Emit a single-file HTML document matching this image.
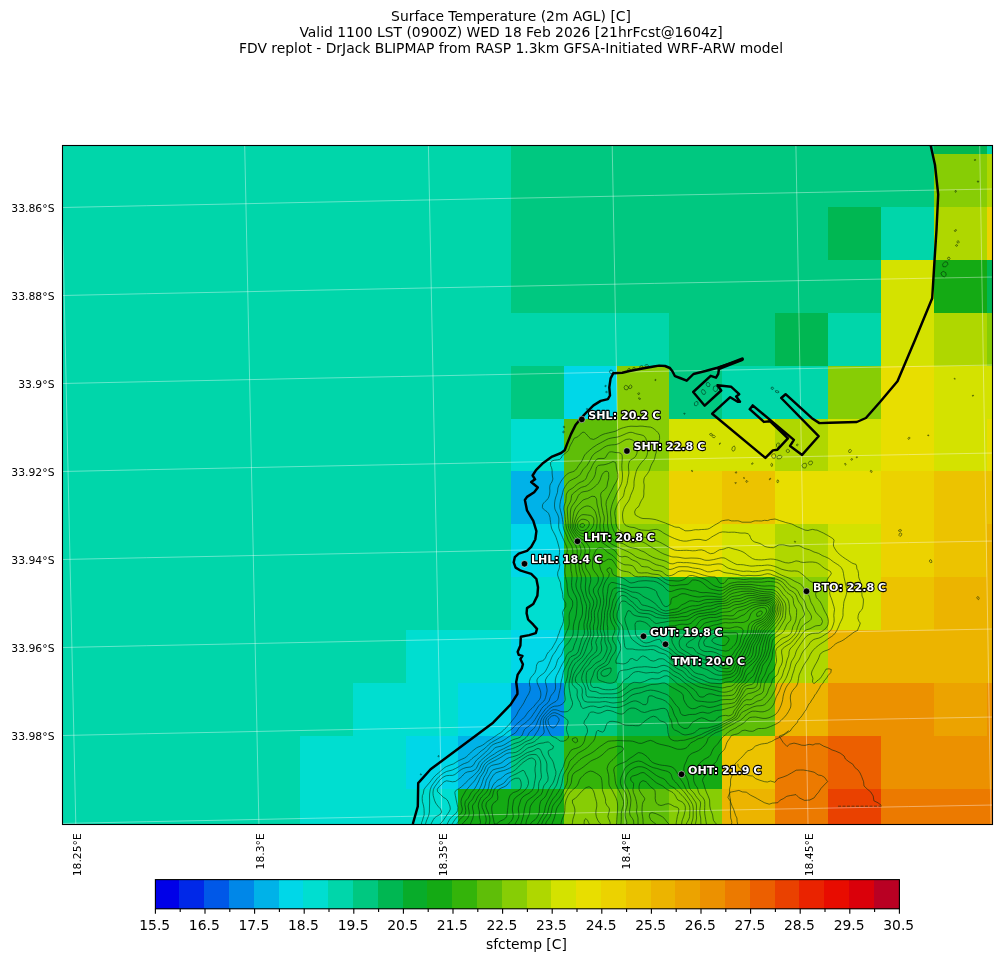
<!DOCTYPE html>
<html><head><meta charset="utf-8"><title>Surface Temperature (2m AGL) [C]</title>
<style>
html,body{margin:0;padding:0;background:#fff;}
svg{display:block;font-family:"DejaVu Sans","Liberation Sans",sans-serif;}
.tt{font-size:13.89px;fill:#000;}
.tk{font-size:10.8px;fill:#000;}
.cbt{font-size:13.89px;fill:#000;}
.lb{font-size:11.1px;font-weight:bold;fill:#fff;stroke:#000;stroke-width:2.3px;paint-order:stroke fill;stroke-linejoin:round;}
</style></head><body>
<svg width="1001" height="962" viewBox="0 0 1001 962">
<rect width="1001" height="962" fill="#fff"/>
<text x="511" y="21" text-anchor="middle" class="tt">Surface Temperature (2m AGL) [C]</text>
<text x="511" y="37" text-anchor="middle" class="tt">Valid 1100 LST (0900Z) WED 18 Feb 2026 [21hrFcst@1604z]</text>
<text x="511" y="53" text-anchor="middle" class="tt">FDV replot - DrJack BLIPMAP from RASP 1.3km GFSA-Initiated WRF-ARW model</text>
<defs><clipPath id="ax"><rect x="62.5" y="145.5" width="930.0" height="679.0"/></clipPath></defs>
<g clip-path="url(#ax)">
<g shape-rendering="crispEdges">
<rect x="62.5" y="145.5" width="930.0" height="679.0" fill="#00d6aa"/>
<rect x="511.00" y="145.50" width="423.50" height="8.80" fill="#00c880"/>
<rect x="934.20" y="145.50" width="53.00" height="8.80" fill="#00b752"/>
<rect x="511.00" y="154.00" width="423.50" height="53.20" fill="#00c880"/>
<rect x="934.20" y="154.00" width="53.00" height="53.20" fill="#87cd05"/>
<rect x="986.90" y="154.00" width="5.90" height="53.20" fill="#afd700"/>
<rect x="511.00" y="206.90" width="317.20" height="53.35" fill="#00c880"/>
<rect x="827.90" y="206.90" width="53.40" height="53.35" fill="#00b752"/>
<rect x="934.20" y="206.90" width="53.00" height="53.35" fill="#afd700"/>
<rect x="986.90" y="206.90" width="5.90" height="53.35" fill="#ecd200"/>
<rect x="511.00" y="259.95" width="370.30" height="53.30" fill="#00c880"/>
<rect x="881.00" y="259.95" width="53.50" height="53.30" fill="#d4e200"/>
<rect x="934.20" y="259.95" width="53.00" height="53.30" fill="#14aa14"/>
<rect x="986.90" y="259.95" width="5.90" height="53.30" fill="#00b752"/>
<rect x="669.20" y="312.95" width="106.00" height="53.35" fill="#00c880"/>
<rect x="774.90" y="312.95" width="53.30" height="53.35" fill="#00b752"/>
<rect x="881.00" y="312.95" width="53.50" height="53.35" fill="#d4e200"/>
<rect x="934.20" y="312.95" width="53.00" height="53.35" fill="#afd700"/>
<rect x="986.90" y="312.95" width="5.90" height="53.35" fill="#87cd05"/>
<rect x="511.00" y="366.00" width="53.20" height="52.85" fill="#00c880"/>
<rect x="563.90" y="366.00" width="52.90" height="52.85" fill="#00d7e8"/>
<rect x="616.50" y="366.00" width="53.00" height="52.85" fill="#87cd05"/>
<rect x="669.20" y="366.00" width="53.10" height="52.85" fill="#00c880"/>
<rect x="827.90" y="366.00" width="53.40" height="52.85" fill="#87cd05"/>
<rect x="881.00" y="366.00" width="53.50" height="52.85" fill="#e8de00"/>
<rect x="934.20" y="366.00" width="58.60" height="52.85" fill="#d4e200"/>
<rect x="511.00" y="418.55" width="53.20" height="52.65" fill="#00ded0"/>
<rect x="563.90" y="418.55" width="52.90" height="52.65" fill="#5fbe08"/>
<rect x="616.50" y="418.55" width="53.00" height="52.65" fill="#87cd05"/>
<rect x="669.20" y="418.55" width="106.00" height="52.65" fill="#d4e200"/>
<rect x="774.90" y="418.55" width="53.30" height="52.65" fill="#afd700"/>
<rect x="827.90" y="418.55" width="53.40" height="52.65" fill="#d4e200"/>
<rect x="881.00" y="418.55" width="53.50" height="52.65" fill="#e8de00"/>
<rect x="934.20" y="418.55" width="53.00" height="52.65" fill="#d4e200"/>
<rect x="986.90" y="418.55" width="5.90" height="52.65" fill="#e8de00"/>
<rect x="511.00" y="470.90" width="53.20" height="53.30" fill="#00b2e8"/>
<rect x="563.90" y="470.90" width="52.90" height="53.30" fill="#5fbe08"/>
<rect x="616.50" y="470.90" width="53.00" height="53.30" fill="#afd700"/>
<rect x="669.20" y="470.90" width="53.10" height="53.30" fill="#ecd200"/>
<rect x="722.00" y="470.90" width="53.20" height="53.30" fill="#ecc300"/>
<rect x="774.90" y="470.90" width="106.40" height="53.30" fill="#e8de00"/>
<rect x="881.00" y="470.90" width="53.50" height="53.30" fill="#ecd200"/>
<rect x="934.20" y="470.90" width="58.60" height="53.30" fill="#ecc300"/>
<rect x="511.00" y="523.90" width="53.20" height="53.35" fill="#00d7e8"/>
<rect x="563.90" y="523.90" width="52.90" height="53.35" fill="#34b40a"/>
<rect x="616.50" y="523.90" width="53.00" height="53.35" fill="#87cd05"/>
<rect x="669.20" y="523.90" width="53.10" height="53.35" fill="#e8de00"/>
<rect x="722.00" y="523.90" width="53.20" height="53.35" fill="#d4e200"/>
<rect x="774.90" y="523.90" width="53.30" height="53.35" fill="#afd700"/>
<rect x="827.90" y="523.90" width="53.40" height="53.35" fill="#d4e200"/>
<rect x="881.00" y="523.90" width="53.50" height="53.35" fill="#ecd200"/>
<rect x="934.20" y="523.90" width="53.00" height="53.35" fill="#ecc300"/>
<rect x="986.90" y="523.90" width="5.90" height="53.35" fill="#ecb400"/>
<rect x="511.00" y="576.95" width="53.20" height="53.15" fill="#00ded0"/>
<rect x="563.90" y="576.95" width="52.90" height="53.15" fill="#08ac2a"/>
<rect x="616.50" y="576.95" width="53.00" height="53.15" fill="#00b752"/>
<rect x="669.20" y="576.95" width="53.10" height="53.15" fill="#14aa14"/>
<rect x="722.00" y="576.95" width="53.20" height="53.15" fill="#34b40a"/>
<rect x="774.90" y="576.95" width="53.30" height="53.15" fill="#87cd05"/>
<rect x="827.90" y="576.95" width="53.40" height="53.15" fill="#d4e200"/>
<rect x="881.00" y="576.95" width="53.50" height="53.15" fill="#ecc300"/>
<rect x="934.20" y="576.95" width="58.60" height="53.15" fill="#ecb400"/>
<rect x="405.50" y="629.80" width="105.80" height="53.45" fill="#00ded0"/>
<rect x="511.00" y="629.80" width="53.20" height="53.45" fill="#00d7e8"/>
<rect x="563.90" y="629.80" width="52.90" height="53.45" fill="#00b752"/>
<rect x="616.50" y="629.80" width="53.00" height="53.45" fill="#00c880"/>
<rect x="669.20" y="629.80" width="53.10" height="53.45" fill="#00b752"/>
<rect x="722.00" y="629.80" width="53.20" height="53.45" fill="#14aa14"/>
<rect x="774.90" y="629.80" width="53.30" height="53.45" fill="#afd700"/>
<rect x="827.90" y="629.80" width="164.90" height="53.45" fill="#ecb400"/>
<rect x="352.70" y="682.95" width="105.80" height="53.20" fill="#00ded0"/>
<rect x="458.20" y="682.95" width="53.10" height="53.20" fill="#00d7e8"/>
<rect x="511.00" y="682.95" width="53.20" height="53.20" fill="#0087e8"/>
<rect x="563.90" y="682.95" width="52.90" height="53.20" fill="#00c880"/>
<rect x="616.50" y="682.95" width="53.00" height="53.20" fill="#00b752"/>
<rect x="669.20" y="682.95" width="53.10" height="53.20" fill="#08ac2a"/>
<rect x="722.00" y="682.95" width="53.20" height="53.20" fill="#5fbe08"/>
<rect x="774.90" y="682.95" width="53.30" height="53.20" fill="#ecb400"/>
<rect x="827.90" y="682.95" width="106.60" height="53.20" fill="#ec9100"/>
<rect x="934.20" y="682.95" width="53.00" height="53.20" fill="#eca300"/>
<rect x="986.90" y="682.95" width="5.90" height="53.20" fill="#ec9100"/>
<rect x="299.90" y="735.85" width="105.90" height="53.35" fill="#00ded0"/>
<rect x="405.50" y="735.85" width="53.00" height="53.35" fill="#00d7e8"/>
<rect x="458.20" y="735.85" width="53.10" height="53.35" fill="#00b2e8"/>
<rect x="511.00" y="735.85" width="53.20" height="53.35" fill="#00c880"/>
<rect x="563.90" y="735.85" width="52.90" height="53.35" fill="#34b40a"/>
<rect x="616.50" y="735.85" width="105.80" height="53.35" fill="#14aa14"/>
<rect x="722.00" y="735.85" width="53.20" height="53.35" fill="#ecc300"/>
<rect x="774.90" y="735.85" width="53.30" height="53.35" fill="#ec7a00"/>
<rect x="827.90" y="735.85" width="53.40" height="53.35" fill="#ec5f00"/>
<rect x="881.00" y="735.85" width="111.80" height="53.35" fill="#ec9100"/>
<rect x="299.90" y="788.90" width="158.60" height="35.90" fill="#00ded0"/>
<rect x="458.20" y="788.90" width="106.00" height="35.90" fill="#14aa14"/>
<rect x="563.90" y="788.90" width="52.90" height="35.90" fill="#87cd05"/>
<rect x="616.50" y="788.90" width="53.00" height="35.90" fill="#5fbe08"/>
<rect x="669.20" y="788.90" width="53.10" height="35.90" fill="#87cd05"/>
<rect x="722.00" y="788.90" width="53.20" height="35.90" fill="#ecb400"/>
<rect x="774.90" y="788.90" width="53.30" height="35.90" fill="#ec7a00"/>
<rect x="827.90" y="788.90" width="53.40" height="35.90" fill="#ea4100"/>
<rect x="881.00" y="788.90" width="111.80" height="35.90" fill="#ec7a00"/>
</g>
<path d="M62.0,207.5 L146.6,205.7 L231.3,204.0 L315.9,202.2 L400.5,200.5 L485.2,198.8 L569.8,197.1 L654.5,195.4 L739.1,193.8 L823.7,192.2 L908.4,190.6 L993.0,189.0 M62.0,295.5 L146.6,293.7 L231.3,292.0 L315.9,290.2 L400.5,288.5 L485.2,286.8 L569.8,285.1 L654.5,283.4 L739.1,281.8 L823.7,280.2 L908.4,278.6 L993.0,277.0 M62.0,383.5 L146.6,381.7 L231.3,380.0 L315.9,378.2 L400.5,376.5 L485.2,374.8 L569.8,373.1 L654.5,371.4 L739.1,369.8 L823.7,368.2 L908.4,366.6 L993.0,365.0 M62.0,471.5 L146.6,469.7 L231.3,468.0 L315.9,466.2 L400.5,464.5 L485.2,462.8 L569.8,461.1 L654.5,459.4 L739.1,457.8 L823.7,456.2 L908.4,454.6 L993.0,453.0 M62.0,559.5 L146.6,557.7 L231.3,556.0 L315.9,554.2 L400.5,552.5 L485.2,550.8 L569.8,549.1 L654.5,547.4 L739.1,545.8 L823.7,544.2 L908.4,542.6 L993.0,541.0 M62.0,647.5 L146.6,645.7 L231.3,644.0 L315.9,642.2 L400.5,640.5 L485.2,638.8 L569.8,637.1 L654.5,635.4 L739.1,633.8 L823.7,632.2 L908.4,630.6 L993.0,629.0 M62.0,735.5 L146.6,733.7 L231.3,732.0 L315.9,730.2 L400.5,728.5 L485.2,726.8 L569.8,725.1 L654.5,723.4 L739.1,721.8 L823.7,720.2 L908.4,718.6 L993.0,717.0 M62.0,823.5 L146.6,821.7 L231.3,820.0 L315.9,818.2 L400.5,816.5 L485.2,814.8 L569.8,813.1 L654.5,811.4 L739.1,809.8 L823.7,808.2 L908.4,806.6 L993.0,805.0 M60.9,145 L75.8,824 M244.7,145 L258.9,824 M428.4,145 L441.9,824 M612.2,145 L625.0,824 M795.9,145 L808.0,824 M979.7,145 L991.0,824" fill="none" stroke="#ffffff" stroke-opacity="0.52" stroke-width="0.75"/>
<path d="M628.3,426.5L631.0,426.2L634.0,426.3L637.0,426.4L640.0,426.1L643.0,426.2L644.8,426.5L647.5,426.8L650.5,427.1L652.6,428.0L654.7,429.5L656.4,431.0L657.9,432.5L658.9,434.0L659.5,435.5L659.6,438.5L659.3,440.0L658.7,443.0L658.1,446.0L657.8,447.5L656.8,450.5L656.3,452.0L655.4,455.0L655.0,457.0L654.3,459.5L653.5,461.0L652.0,463.6L651.1,465.5L650.5,467.0L649.5,470.0L648.8,471.5L647.5,473.6L646.0,475.5L644.5,477.5L644.0,479.0L643.7,482.0L644.2,485.0L644.1,488.0L643.8,491.0L643.9,494.0L643.5,497.0L642.7,498.5L641.5,500.3L640.1,503.0L639.6,504.5L638.5,506.8L637.0,507.7L635.5,509.6L634.6,512.0L635.3,515.0L637.0,516.0L638.5,516.8L640.9,518.0L643.0,518.5L646.0,518.6L649.0,518.7L652.0,519.0L655.0,519.5L656.5,519.9L659.5,520.9L661.0,521.5L663.9,522.5L665.5,523.1L667.7,524.0L670.0,524.9L671.5,525.5L674.5,526.8L676.0,527.2L679.0,527.3L680.9,528.5L683.5,529.8L685.0,530.8L688.0,530.8L691.0,530.6L693.5,530.0L695.5,529.7L698.5,529.8L701.5,529.5L704.5,529.4L707.5,529.1L709.3,528.5L711.8,527.0L713.5,525.8L715.0,524.9L716.7,524.0L719.3,522.5L721.0,521.2L722.5,520.7L725.5,520.2L728.5,519.9L731.5,520.9L734.5,520.9L737.5,520.8L739.0,521.0L742.0,522.2L745.0,522.2L748.0,522.2L751.0,522.2L754.0,521.0L755.5,520.8L758.5,520.9L761.5,521.0L764.5,520.3L767.5,520.6L770.5,519.5L772.0,519.4L775.0,519.0L776.7,519.5L779.5,520.5L781.0,521.0L784.0,521.9L785.6,522.5L788.5,523.2L791.5,523.9L793.0,524.5L794.7,525.5L797.5,526.9L799.0,527.4L801.3,528.5L803.5,529.4L805.0,530.1L808.0,530.5L809.6,530.0L812.5,529.4L815.4,530.0L817.0,530.1L820.0,531.5L821.5,532.2L823.3,533.0L826.0,534.5L827.5,535.3L829.0,536.2L831.2,537.5L833.4,539.0L834.0,540.5L833.5,543.5L833.4,545.0L833.7,546.5L835.0,548.9L836.4,551.0L837.6,552.5L839.2,554.0L840.9,555.5L842.5,556.7L844.0,557.8L845.5,558.8L847.4,560.0L849.6,561.5L851.5,562.7L853.0,563.5L856.0,564.4L856.6,566.0L856.9,569.0L857.9,570.5L858.5,573.5L858.6,576.5L859.0,578.2L860.2,581.0L860.5,584.0L860.5,585.5L861.3,588.5L861.9,591.5L861.9,594.5L862.0,596.0L863.4,599.0L863.4,602.0L863.1,605.0L862.6,608.0L862.0,609.5L860.4,611.0L859.0,613.1L858.2,615.5L857.9,618.5L859.0,621.4L860.3,623.0L859.4,626.0L858.6,627.5L857.5,630.5L856.0,631.2L854.2,632.0L852.2,633.5L850.3,635.0L848.5,636.3L847.0,637.4L845.5,638.5L844.0,639.6L841.6,641.0L839.5,641.9L837.9,642.5L835.4,644.0L833.7,645.5L832.2,647.0L830.5,648.4L829.0,649.4L827.5,650.0L824.5,651.1L823.0,651.8L821.2,653.0L820.0,654.6L818.9,657.5L818.3,659.0L817.0,661.7L816.0,663.5L815.1,665.0L814.0,667.2L812.8,669.5L812.0,671.0L811.3,674.0L812.5,677.0L812.9,678.5L812.5,681.3L812.5,682.2L814.0,683.6L815.5,682.5L817.0,680.9L818.5,679.8L820.2,678.5L821.5,676.6L823.0,674.2L824.1,672.5L825.0,671.0L826.0,669.1L829.0,668.8L831.3,669.5L830.8,672.5L829.5,674.0L828.1,675.5L827.2,677.0L826.0,678.9L824.5,680.2L823.1,683.0L821.7,684.5L820.4,686.0L819.8,687.5L818.5,689.7L817.0,692.0L816.2,693.5L814.8,695.0L814.0,696.8L812.5,699.0L811.1,701.0L810.4,702.5L808.9,704.0L808.0,705.8L806.6,708.5L806.0,710.0L804.7,711.5L803.5,713.4L802.0,715.6L800.6,717.5L799.0,719.0L797.9,720.5L797.5,722.1L796.0,723.8L794.5,725.5L793.0,727.1L791.5,729.0L790.3,731.0L788.5,732.0L787.0,733.0L785.3,734.0L783.2,735.5L781.0,736.8L779.5,737.5L777.2,738.5L775.0,739.4L773.5,740.4L771.5,741.5L769.0,742.4L767.5,743.2L764.5,743.6L761.5,744.0L759.7,744.5L757.0,745.5L755.5,746.0L753.7,747.5L752.5,749.1L749.5,750.4L748.0,750.7L746.3,752.0L745.0,753.6L743.5,755.3L742.0,756.9L740.5,758.4L739.0,759.9L737.5,761.3L736.0,762.9L734.5,764.9L733.5,767.0L732.8,768.5L732.6,771.5L732.5,774.5L731.5,776.9L730.7,779.0L730.5,782.0L730.6,785.0L730.0,787.3L729.5,789.5L729.7,792.5L729.7,795.5L730.0,797.5L730.6,800.0L730.3,803.0L730.4,806.0L730.5,809.0L730.4,812.0L730.6,815.0L730.7,818.0L731.5,820.6L731.8,822.5L731.5,824.2L730.0,825.6L728.5,828.0L727.7,830.0L727.0,831.9L726.3,834.5L725.6,837.5L725.5,839.0L725.4,842.0L725.2,845.0L724.6,848.0L722.9,849.5L721.0,849.7L718.0,849.9L715.0,850.0L712.0,850.1L709.0,850.2L706.0,850.3L703.0,850.3L700.0,850.4L697.0,850.5L694.0,850.6L691.0,850.6L688.0,850.7L685.0,850.7L682.0,850.7L679.0,850.8L676.0,850.8L673.0,850.8L670.0,850.8L667.0,850.8L664.0,850.8L661.0,850.8L658.0,850.8L655.0,850.8L652.0,850.8L649.0,850.8L646.0,850.8L643.0,850.8L640.0,850.8L637.0,850.8L634.0,850.8L631.0,850.8L628.0,850.8L625.0,850.8L622.0,850.8L619.0,850.7L616.0,850.7L613.0,850.7L610.0,850.7L607.0,850.6L604.0,850.4L601.0,850.2L598.0,850.0L595.0,849.7L592.0,849.6L590.1,849.5L587.5,849.3L586.0,849.5L583.0,849.6L580.0,849.7L577.0,849.7L574.0,849.8L571.0,850.1L568.0,850.4L565.0,850.5L562.0,850.6L559.0,850.6L556.0,850.7L553.0,850.6L550.0,850.6L547.0,850.6L544.0,850.6L541.0,850.7L538.0,850.7L535.0,850.8L532.0,850.8L529.0,850.8L526.0,850.9L523.0,850.9L520.0,850.9L517.0,850.9L514.0,850.9L511.0,850.9L508.0,850.9L505.0,850.9L502.0,850.9L499.0,850.9L496.0,850.9L493.0,850.9L490.0,850.9L487.0,850.9L484.0,850.9L481.0,850.9L478.0,850.9L475.0,850.9L472.0,850.9L469.0,850.9L466.0,850.9L463.0,850.9L460.0,850.9L457.0,850.9L454.0,850.9L451.0,850.9L448.0,850.9L445.0,850.8L442.0,850.8L439.0,850.8L436.0,850.8L433.0,850.8L430.0,850.8L427.0,850.7L424.0,850.6L421.0,850.3L418.0,849.6L416.5,849.5L414.0,848.0L414.4,845.0L415.0,842.8L416.6,842.0L418.0,840.5L418.7,837.5L419.5,834.8L419.9,833.0L421.0,830.4L421.2,828.5L421.3,825.5L421.6,822.5L422.5,820.4L423.1,818.0L424.0,815.5L424.2,813.5L424.1,810.5L424.0,808.6L423.6,806.0L422.8,803.0L422.4,801.5L422.2,798.5L422.4,795.5L423.2,794.0L423.7,791.0L424.0,789.5L425.5,787.3L427.0,785.6L428.5,783.8L430.0,782.1L431.2,780.5L432.3,779.0L433.5,777.5L434.9,776.0L436.5,774.5L438.4,773.0L440.1,771.5L441.8,770.0L443.5,768.5L445.0,767.3L446.5,766.5L449.1,765.5L451.0,764.7L453.3,764.0L455.5,762.6L457.0,761.6L458.5,760.7L461.2,759.5L463.0,758.7L464.6,758.0L466.7,756.5L468.3,755.0L469.8,753.5L471.3,752.0L473.1,750.5L475.0,749.0L476.5,747.9L478.0,747.1L480.9,746.0L482.5,745.2L484.0,744.2L485.5,743.0L487.3,741.5L489.8,740.0L491.5,738.8L493.0,737.8L494.5,736.8L496.3,735.5L498.5,734.0L500.5,732.8L502.0,731.6L503.5,730.2L505.0,728.6L506.5,727.2L508.0,725.8L509.5,724.2L511.0,722.2L512.2,720.5L513.5,719.0L514.7,717.5L515.8,716.0L517.0,714.0L518.2,711.5L519.1,710.0L520.1,708.5L521.5,706.5L523.0,704.2L524.0,702.5L524.7,701.0L526.0,698.5L527.1,696.5L528.0,695.0L529.0,693.2L530.0,690.5L530.2,687.5L529.5,684.5L529.4,681.5L530.3,678.5L531.3,677.0L532.6,675.5L533.9,674.0L535.0,672.5L536.0,669.5L536.4,666.5L536.6,665.0L538.0,662.3L539.5,661.6L542.5,660.8L544.0,659.8L545.5,657.8L546.2,656.0L547.0,654.1L548.5,652.0L550.0,650.6L551.5,649.0L552.8,647.0L553.6,645.5L554.5,643.9L556.0,641.2L556.7,639.5L557.5,637.7L558.2,635.0L559.0,633.4L559.9,630.5L560.5,628.9L561.8,626.0L562.5,624.5L563.4,621.5L563.5,620.0L563.5,618.4L563.0,615.5L562.5,612.5L563.5,610.0L564.8,608.0L565.7,606.5L565.8,603.5L565.0,601.8L563.5,599.4L562.9,597.5L562.7,594.5L562.2,591.5L561.7,590.0L560.9,587.0L560.6,584.0L560.4,582.5L559.2,579.5L558.5,578.0L557.6,575.0L557.8,572.0L559.0,569.1L559.4,567.5L559.8,564.5L559.1,561.5L558.8,560.0L558.9,557.0L559.1,555.5L559.6,552.5L559.5,549.5L559.0,547.4L558.4,545.0L557.6,542.0L557.1,540.5L556.1,537.5L555.5,536.0L554.5,534.0L553.2,531.5L552.3,530.0L551.5,528.0L551.0,525.5L550.6,522.5L550.2,519.5L550.0,517.5L549.2,515.0L548.5,513.4L547.0,511.7L545.3,510.5L543.3,509.0L542.4,507.5L542.5,504.9L543.6,503.0L545.1,501.5L546.9,500.0L548.0,498.5L548.8,497.0L549.6,494.0L549.9,491.0L549.7,488.0L550.0,485.2L550.8,483.5L551.9,482.0L552.9,479.0L552.4,476.0L552.1,473.0L552.1,470.0L551.5,467.5L550.6,465.5L550.6,462.5L552.0,461.0L554.5,460.2L557.5,459.8L559.6,459.5L561.2,458.0L562.0,456.3L563.5,454.6L565.0,453.5L566.9,452.0L568.4,450.5L569.5,447.5L570.0,446.0L571.0,444.1L572.5,441.5L573.2,440.0L574.0,438.3L577.0,437.1L578.5,436.2L580.0,434.7L581.5,433.0L583.0,432.1L584.6,432.5L586.2,434.0L587.5,435.5L589.0,437.3L590.5,438.7L593.5,439.4L595.8,438.5L598.0,437.2L599.5,436.2L601.0,435.3L604.0,434.0L605.5,433.6L608.5,432.9L610.0,432.5L613.0,431.9L616.0,431.0L617.5,430.2L619.0,429.3L622.0,428.1L623.5,427.7L626.5,426.9L628.3,426.5 M586.0,818.6L584.5,819.8L584.1,822.5L584.2,825.5L584.5,827.3L585.4,830.0L586.0,832.4L587.5,833.2L588.7,831.5L589.3,830.0L589.8,827.0L589.3,824.0L588.6,822.5L587.5,820.3L586.0,818.6 M629.1,432.5L631.0,432.3L632.5,432.5L635.5,433.6L637.0,434.0L640.0,434.6L643.0,435.4L644.5,436.4L645.9,438.5L646.3,440.0L647.5,443.0L648.0,444.5L648.2,447.5L647.8,450.5L647.5,452.5L647.1,455.0L646.0,457.5L644.5,459.4L643.0,460.9L641.5,462.5L640.3,464.0L639.3,465.5L638.3,467.0L637.0,469.3L636.2,471.5L635.5,474.3L635.1,476.0L634.4,479.0L634.0,481.8L634.0,483.5L634.0,485.0L633.9,486.5L633.2,489.5L632.5,491.1L631.2,494.0L630.6,495.5L629.7,498.5L629.1,500.0L628.0,501.9L626.5,503.9L625.1,506.0L624.3,507.5L623.5,509.6L622.8,512.0L622.5,515.0L622.7,518.0L623.1,521.0L623.5,522.6L625.0,524.8L626.5,525.8L629.5,526.9L631.0,527.2L634.0,527.5L636.7,528.5L638.5,529.3L641.5,530.0L643.0,530.1L646.0,530.3L649.0,530.4L651.3,530.0L653.5,529.6L656.5,529.4L658.7,530.0L661.0,531.2L662.5,532.3L664.0,533.3L666.2,534.5L668.5,535.7L670.0,536.5L672.2,537.5L674.5,538.5L676.0,539.1L679.0,540.1L680.5,540.5L683.5,541.1L686.5,541.1L689.5,540.6L691.0,540.2L694.0,539.7L697.0,539.4L700.0,539.4L703.0,540.1L706.0,540.5L708.9,539.0L710.5,537.8L712.0,536.8L713.5,535.9L716.1,534.5L718.0,533.4L719.5,532.6L722.5,531.9L725.5,532.0L728.5,532.3L731.5,532.2L734.5,532.2L737.5,532.6L740.0,533.0L742.0,533.1L745.0,533.0L748.0,533.7L749.5,535.0L750.5,537.5L751.1,539.0L752.5,540.7L754.7,542.0L757.0,542.6L760.0,543.5L761.5,544.3L763.0,545.3L765.0,546.5L767.5,547.2L770.5,547.6L773.5,547.7L775.9,546.5L778.0,545.2L779.5,544.9L782.5,544.8L784.2,545.0L787.0,545.7L790.0,546.2L793.0,546.1L796.0,545.7L799.0,545.7L801.0,546.5L803.5,547.9L805.0,548.6L808.0,549.4L809.5,549.8L812.0,551.0L814.0,552.0L815.8,552.5L818.5,553.4L820.0,554.2L822.1,555.5L824.5,556.5L826.0,557.1L828.9,558.5L830.5,559.6L832.0,560.8L833.5,561.9L835.2,563.0L837.6,564.5L839.5,565.8L841.0,567.3L842.1,569.0L842.8,570.5L843.5,573.5L843.9,576.5L844.2,578.0L844.9,581.0L845.5,584.0L845.8,585.5L846.6,588.5L846.8,591.5L846.3,594.5L845.5,597.2L844.8,599.0L844.0,601.6L843.7,603.5L843.5,606.5L843.1,609.5L843.0,612.5L843.0,615.5L842.5,617.8L841.6,620.0L840.8,621.5L839.5,624.3L838.9,626.0L838.0,628.0L836.8,630.5L835.9,632.0L834.8,633.5L833.5,635.0L831.6,636.5L829.2,638.0L827.5,639.2L826.0,640.3L824.5,641.4L822.7,642.5L820.4,644.0L818.5,645.4L817.0,646.6L815.5,647.8L814.0,649.3L812.5,651.0L811.1,653.0L810.2,654.5L809.5,656.1L808.0,658.9L806.9,660.5L805.8,662.0L804.8,663.5L803.5,665.6L802.3,668.0L801.6,669.5L800.5,671.8L799.5,674.0L799.0,675.5L798.5,678.5L798.1,681.5L797.5,683.9L796.5,686.0L795.3,687.5L793.9,689.0L792.7,690.5L791.5,692.5L790.6,695.0L790.3,698.0L790.6,701.0L791.0,704.0L790.7,707.0L790.0,708.7L788.5,711.5L787.6,713.0L786.6,714.5L785.4,716.0L784.0,717.5L782.5,719.0L781.0,720.5L779.3,722.0L777.0,723.5L775.0,724.5L773.5,725.2L770.5,726.5L769.0,727.1L766.5,728.0L764.5,728.4L761.5,728.5L758.5,728.5L756.0,729.5L754.0,730.8L752.5,731.3L749.5,731.2L748.0,730.9L745.0,730.1L742.0,730.7L740.5,731.9L739.0,733.1L737.1,734.0L734.5,734.5L731.5,735.5L730.4,737.0L729.6,738.5L728.5,740.0L727.0,742.3L726.2,744.5L725.5,746.9L724.7,749.0L723.5,750.5L721.9,752.0L720.5,753.5L719.3,755.0L718.0,757.7L717.4,759.5L716.5,761.4L715.0,763.0L713.5,764.2L712.0,765.6L710.5,767.4L709.0,769.3L707.5,771.3L706.5,773.0L705.6,774.5L704.5,776.2L703.0,778.4L702.5,780.5L703.0,782.0L704.1,785.0L704.5,786.7L705.4,789.5L706.0,791.1L707.2,794.0L707.9,795.5L709.0,798.3L709.6,800.0L709.7,803.0L709.8,806.0L710.4,809.0L710.9,810.5L712.0,813.2L712.6,815.0L713.0,818.0L713.5,820.4L715.0,822.5L716.4,824.0L717.2,825.5L717.5,828.5L716.8,831.5L716.2,833.0L715.0,834.9L713.6,837.5L713.1,839.0L712.2,842.0L711.5,843.5L710.5,845.6L709.1,848.0L707.5,848.3L704.5,848.8L701.6,849.5L700.0,849.6L697.0,849.7L694.0,849.9L691.0,850.0L688.0,850.1L685.0,850.2L682.0,850.3L679.0,850.4L676.0,850.5L673.0,850.5L670.0,850.5L667.0,850.5L664.0,850.5L661.0,850.6L658.0,850.6L655.0,850.6L652.0,850.5L649.0,850.5L646.0,850.5L643.0,850.5L640.0,850.4L637.0,850.4L634.0,850.4L631.0,850.4L628.0,850.4L625.0,850.4L622.0,850.3L619.0,850.3L616.0,850.2L613.0,850.2L610.0,850.1L607.0,849.9L604.0,849.5L602.5,848.1L602.5,847.6L603.1,845.0L603.9,842.0L604.2,840.5L604.4,837.5L604.0,834.9L603.6,833.0L603.3,830.0L602.9,827.0L602.2,825.5L600.8,824.0L599.3,822.5L598.0,820.6L596.8,818.0L596.3,816.5L595.8,813.5L596.0,810.5L596.5,808.0L596.8,806.0L596.7,803.0L596.4,801.5L595.6,798.5L595.0,796.7L594.5,794.0L593.5,791.1L592.6,789.5L591.4,788.0L589.0,786.7L586.0,787.6L584.5,788.8L583.0,790.2L581.5,791.6L580.0,793.2L578.5,795.0L577.0,796.7L575.5,798.2L574.0,799.1L572.4,800.0L572.5,803.0L573.3,804.5L574.0,806.1L574.8,809.0L574.9,812.0L574.2,815.0L573.7,816.5L572.8,819.5L572.5,822.5L572.2,824.0L571.0,826.8L570.3,828.5L569.5,830.3L568.5,833.0L568.3,836.0L568.8,839.0L569.5,841.5L569.7,843.5L569.5,845.8L569.3,848.0L567.6,849.5L565.0,849.8L562.0,850.0L559.0,850.0L556.0,850.1L553.0,850.0L550.0,850.0L547.0,850.0L544.0,850.0L541.0,850.1L538.0,850.3L535.0,850.4L532.0,850.5L529.0,850.6L526.0,850.6L523.0,850.6L520.0,850.6L517.0,850.6L514.0,850.7L511.0,850.7L508.0,850.7L505.0,850.7L502.0,850.7L499.0,850.8L496.0,850.8L493.0,850.8L490.0,850.8L487.0,850.8L484.0,850.8L481.0,850.8L478.0,850.8L475.0,850.8L472.0,850.7L469.0,850.7L466.0,850.7L463.0,850.7L460.0,850.7L457.0,850.7L454.0,850.6L451.0,850.6L448.0,850.6L445.0,850.6L442.0,850.6L439.0,850.6L436.0,850.5L433.0,850.5L430.0,850.3L427.0,850.2L424.0,849.9L421.9,849.5L421.4,846.5L422.0,843.5L422.3,840.5L422.4,837.5L422.7,836.0L423.6,833.0L424.2,831.5L424.9,828.5L425.2,825.5L425.5,823.9L426.4,821.0L427.0,819.5L428.3,816.5L428.8,815.0L429.4,812.0L429.4,809.0L429.5,806.0L429.6,803.0L429.6,800.0L429.5,797.0L429.6,794.0L430.0,791.0L430.3,789.5L431.4,786.5L432.3,785.0L433.4,783.5L434.5,782.0L436.0,780.0L437.5,778.2L439.0,776.7L440.5,775.4L442.0,774.2L443.7,773.0L446.5,771.5L448.0,771.1L451.0,770.4L452.5,769.9L455.5,768.5L457.0,767.7L458.5,766.8L460.5,765.5L463.0,764.1L464.5,763.5L467.3,762.5L469.0,761.5L470.5,760.1L472.0,758.6L473.5,757.4L475.0,756.3L476.8,755.0L478.4,753.5L479.9,752.0L481.8,750.5L484.0,749.0L485.5,747.8L487.0,746.3L488.5,744.8L490.0,743.5L491.5,742.5L493.1,741.5L495.8,740.0L497.5,739.0L499.0,738.1L500.9,737.0L503.4,735.5L505.0,734.2L506.5,732.8L508.0,731.6L509.5,730.6L511.2,729.5L513.0,728.0L514.4,726.5L515.7,725.0L517.3,723.5L519.1,722.0L520.8,720.5L522.6,719.0L524.1,717.5L525.4,716.0L526.4,714.5L527.5,712.9L529.0,711.0L530.5,709.6L532.0,708.3L533.5,706.8L535.0,704.9L536.5,703.1L538.0,701.4L539.5,699.5L540.3,698.0L540.9,695.0L540.7,692.0L539.8,689.0L539.2,687.5L538.0,684.9L537.2,683.0L536.9,680.0L538.0,677.9L539.5,676.4L541.0,675.2L542.7,674.0L544.5,672.5L545.6,671.0L547.0,668.3L547.9,666.5L548.6,665.0L549.9,662.0L550.5,660.5L551.5,657.9L552.4,656.0L553.3,654.5L554.5,652.9L556.0,650.7L557.2,648.5L558.0,647.0L559.0,645.3L560.5,643.5L562.0,641.9L563.5,639.8L564.3,638.0L565.0,635.6L565.8,633.5L566.5,631.9L567.8,629.0L568.4,627.5L569.2,624.5L569.3,621.5L569.1,618.5L569.1,615.5L569.5,613.1L570.3,611.0L571.1,609.5L572.4,606.5L572.7,605.0L572.7,602.0L572.2,600.5L571.0,598.8L569.5,597.0L568.3,594.5L568.0,593.0L567.5,590.0L567.1,587.0L567.0,584.0L566.5,581.0L566.1,579.5L565.5,576.5L565.0,573.8L564.8,572.0L564.9,569.0L565.1,567.5L565.5,564.5L565.2,561.5L564.9,560.0L565.0,557.0L565.6,555.5L566.5,553.7L567.3,551.0L567.1,548.0L566.5,546.2L565.3,543.5L564.6,542.0L563.5,539.5L562.6,537.5L562.0,536.0L560.6,533.0L560.0,531.5L559.0,528.7L558.7,527.0L558.7,524.0L558.9,521.0L558.8,518.0L557.9,515.0L557.2,513.5L556.0,511.4L554.9,509.0L554.5,506.0L554.6,503.0L555.0,500.0L555.8,497.0L556.4,495.5L557.4,492.5L557.6,491.0L557.9,488.0L559.0,485.0L559.8,483.5L560.6,482.0L562.0,479.8L563.5,477.9L565.0,476.2L566.5,474.6L568.0,473.5L569.5,472.7L572.5,471.8L574.0,471.2L575.6,470.0L577.0,468.2L578.5,465.7L579.8,464.0L580.9,462.5L581.9,461.0L583.0,458.6L583.9,456.5L584.7,455.0L586.0,453.4L587.6,452.0L589.3,450.5L591.1,449.0L592.9,447.5L595.0,446.1L596.5,445.1L598.0,444.2L600.3,443.0L602.5,441.8L604.0,441.0L605.8,440.0L608.5,438.7L610.0,438.3L613.0,437.7L616.0,437.3L617.6,437.0L620.5,436.0L622.0,435.4L625.0,434.1L626.5,433.4L629.1,432.5 M624.9,440.0L626.5,439.4L629.5,439.0L632.3,440.0L634.0,441.1L635.5,442.2L637.0,444.4L637.4,446.0L637.3,449.0L637.1,452.0L636.9,453.5L635.5,456.5L634.0,457.9L632.5,458.9L631.0,459.7L629.5,461.0L628.6,464.0L628.4,467.0L628.7,470.0L628.9,473.0L628.4,476.0L628.0,477.8L627.6,480.5L627.1,483.5L626.5,485.3L625.3,488.0L624.8,489.5L624.2,492.5L623.6,495.5L622.8,497.0L621.6,498.5L620.1,500.0L618.9,501.5L617.5,504.3L616.8,506.0L616.0,507.8L615.1,510.5L614.7,513.5L615.2,516.5L615.6,519.5L615.8,522.5L616.0,524.0L617.0,527.0L617.8,528.5L619.1,530.0L621.6,531.5L623.5,532.3L625.1,533.0L627.7,534.5L629.5,535.8L631.0,536.6L634.0,537.2L637.0,536.8L640.0,536.7L643.0,536.9L645.5,537.5L647.5,538.1L650.3,539.0L652.0,539.5L655.0,540.3L656.5,540.8L659.3,542.0L661.0,542.8L662.5,543.6L665.0,545.0L667.0,546.2L668.5,547.1L670.1,548.0L673.0,549.4L674.5,550.0L677.5,550.5L680.5,550.5L683.5,550.4L686.5,550.3L689.5,550.5L692.5,550.8L695.5,550.7L698.5,550.1L701.5,549.9L704.5,550.7L706.0,551.5L707.5,552.5L710.5,553.7L713.5,553.3L715.1,552.5L717.3,551.0L719.5,549.8L721.5,549.5L724.0,549.0L726.4,548.0L728.5,547.5L730.6,548.0L733.0,548.8L735.8,549.5L737.5,549.9L740.5,550.9L742.0,551.5L744.0,552.5L746.1,554.0L747.9,555.5L749.5,556.6L751.0,557.6L752.5,558.6L755.5,559.6L758.5,559.8L761.5,559.9L764.5,559.7L767.5,559.3L770.5,559.0L773.5,559.2L776.5,559.8L778.0,560.2L781.0,561.2L782.5,561.8L785.5,562.7L788.5,563.0L791.5,562.5L794.3,561.5L796.0,560.9L799.0,561.3L800.5,562.0L803.5,562.5L806.5,562.2L809.5,562.0L812.5,562.0L815.5,562.4L817.4,563.0L819.9,564.5L821.5,565.9L823.0,567.2L824.5,568.3L826.0,569.1L828.8,570.5L830.5,571.5L831.3,573.5L830.5,575.0L829.0,576.9L827.5,579.2L826.9,581.0L827.5,583.7L828.7,585.5L829.7,587.0L830.4,590.0L829.6,593.0L830.3,596.0L831.0,597.5L832.0,600.2L832.5,602.0L833.4,605.0L833.9,606.5L834.5,609.5L834.1,612.5L833.8,615.5L834.1,618.5L834.1,621.5L833.5,623.9L832.8,626.0L832.0,628.1L830.6,630.5L829.1,632.0L827.5,633.0L826.0,633.9L824.2,635.0L822.1,636.5L820.0,637.6L818.5,638.2L815.5,638.9L813.8,639.5L811.5,641.0L810.2,642.5L809.2,644.0L808.0,645.8L806.5,647.6L805.0,649.1L803.5,650.8L802.1,653.0L801.4,654.5L800.5,656.7L799.5,659.0L798.6,660.5L797.5,662.0L796.0,664.2L795.1,666.5L794.5,668.4L793.8,671.0L793.0,673.3L792.3,675.5L791.5,678.5L791.0,680.0L790.0,681.9L788.5,683.8L787.0,685.9L786.1,687.5L785.4,689.0L784.3,692.0L783.8,693.5L783.1,696.5L782.7,699.5L782.4,701.0L781.5,704.0L781.0,705.5L779.7,708.5L778.9,710.0L778.0,711.5L776.5,713.5L775.0,714.8L772.9,716.0L770.5,717.1L769.0,717.7L766.0,718.4L763.0,718.4L760.0,717.9L758.4,717.5L755.5,717.0L752.5,717.1L749.9,717.5L748.0,718.8L746.5,720.3L745.0,721.7L743.5,723.1L742.0,724.1L740.5,725.1L737.7,726.5L736.0,727.9L734.5,728.5L732.7,729.5L730.0,730.9L728.5,731.9L727.0,733.4L725.5,734.8L724.0,735.9L722.5,737.3L721.0,739.2L719.5,741.2L718.4,743.0L717.1,744.5L715.6,746.0L714.3,747.5L713.2,749.0L712.0,751.4L711.2,753.5L710.5,755.0L709.0,756.7L706.8,758.0L704.5,759.2L703.0,760.3L701.5,761.5L700.0,762.9L698.5,764.8L697.0,766.8L695.8,768.5L695.0,770.0L694.2,773.0L693.9,774.5L693.5,777.5L693.7,780.5L694.1,782.0L695.4,785.0L696.5,786.5L697.5,788.0L698.2,791.0L698.7,792.5L700.0,794.7L701.5,796.2L703.0,797.8L704.3,800.0L704.7,801.5L704.8,804.5L704.7,807.5L704.6,810.5L704.7,813.5L705.2,816.5L705.7,819.5L706.0,821.4L706.4,824.0L706.8,827.0L706.7,830.0L706.1,833.0L705.5,834.5L704.5,836.0L703.0,838.0L701.5,839.8L700.0,841.1L698.5,843.2L697.4,845.0L696.2,846.5L695.0,848.0L692.5,848.9L689.7,849.5L688.0,849.6L685.0,849.7L682.0,849.9L679.0,850.0L676.0,850.1L673.0,850.2L670.0,850.2L667.0,850.2L664.0,850.3L661.0,850.3L658.0,850.3L655.0,850.3L652.0,850.3L649.0,850.3L646.0,850.2L643.0,850.2L640.0,850.1L637.0,850.1L634.0,850.1L631.0,850.0L628.0,850.0L625.0,850.0L622.0,849.9L619.0,849.9L616.0,849.8L613.0,849.7L610.2,849.5L608.5,848.5L608.1,846.5L608.7,845.0L610.0,842.8L611.3,840.5L611.6,839.0L611.5,837.1L611.1,834.5L610.3,831.5L610.0,829.6L610.0,827.0L610.1,825.5L610.1,822.5L609.6,821.0L608.5,818.6L607.9,816.5L608.5,813.5L609.1,812.0L609.5,809.0L608.5,807.2L607.0,805.5L605.7,803.0L605.5,801.5L605.6,800.0L605.3,798.5L604.4,795.5L603.8,794.0L602.7,791.0L602.4,789.5L602.3,786.5L602.1,783.5L601.8,780.5L601.1,777.5L600.1,776.0L598.2,774.5L596.5,773.5L595.0,772.6L592.9,771.5L590.5,771.1L588.8,771.5L586.0,773.0L584.5,774.3L583.0,775.7L581.5,777.2L580.0,779.0L579.3,780.5L578.5,782.9L577.5,785.0L576.4,786.5L575.0,788.0L573.1,789.5L571.4,791.0L570.1,792.5L569.0,794.0L568.0,795.6L566.7,798.5L566.1,800.0L565.4,803.0L565.0,805.3L564.9,807.5L564.8,810.5L564.3,813.5L563.5,815.9L562.6,818.0L562.0,819.6L561.2,822.5L560.7,825.5L560.4,827.0L559.4,830.0L558.8,831.5L558.2,834.5L558.5,837.5L559.0,839.2L560.2,842.0L561.1,843.5L562.0,845.1L562.8,848.0L560.5,848.9L557.5,849.4L554.5,849.4L551.5,849.1L548.5,849.0L545.5,848.9L542.5,849.2L541.0,849.5L538.0,849.8L535.0,850.1L532.0,850.2L529.0,850.3L526.0,850.4L523.0,850.4L520.0,850.4L517.0,850.4L514.0,850.5L511.0,850.5L508.0,850.5L505.0,850.6L502.0,850.6L499.0,850.6L496.0,850.6L493.0,850.6L490.0,850.6L487.0,850.6L484.0,850.6L481.0,850.6L478.0,850.6L475.0,850.6L472.0,850.6L469.0,850.6L466.0,850.5L463.0,850.5L460.0,850.5L457.0,850.5L454.0,850.4L451.0,850.4L448.0,850.4L445.0,850.3L442.0,850.3L439.0,850.3L436.0,850.2L433.0,850.1L430.0,849.9L427.0,849.7L425.5,849.5L424.5,846.5L424.9,843.5L425.0,840.5L425.3,837.5L425.8,836.0L427.0,833.8L428.5,831.6L429.3,830.0L430.0,827.0L430.5,825.5L431.5,823.0L432.6,821.0L433.4,819.5L434.5,818.0L436.3,816.5L439.0,815.1L440.5,814.0L441.7,812.0L440.6,809.0L439.1,807.5L437.8,806.0L436.7,804.5L435.7,803.0L434.5,800.3L434.0,798.5L433.2,795.5L433.0,793.4L433.0,792.1L433.4,789.5L434.5,787.1L436.0,785.0L437.2,783.5L438.3,782.0L439.4,780.5L440.8,779.0L442.7,777.5L445.0,776.2L446.5,775.7L449.5,775.4L452.5,775.4L454.9,774.5L456.8,773.0L458.5,771.5L460.0,770.4L461.5,769.4L463.3,768.5L466.0,767.6L469.0,767.2L470.6,767.0L473.1,765.5L474.1,764.0L475.0,762.3L476.5,760.2L478.0,758.8L479.5,757.6L481.0,756.3L482.5,754.9L484.1,753.5L485.8,752.0L487.3,750.5L488.6,749.0L490.0,747.3L491.5,745.7L493.2,744.5L496.0,743.3L497.5,742.8L500.5,741.9L502.0,741.2L504.1,740.0L506.3,738.5L508.0,737.2L509.5,736.3L511.0,735.4L513.8,734.0L515.5,732.8L517.0,731.0L517.9,729.5L518.9,728.0L520.3,726.5L522.3,725.0L524.5,723.5L526.0,722.3L527.5,721.0L529.0,719.5L530.5,718.0L532.0,716.1L533.0,714.5L534.0,713.0L535.1,711.5L536.5,709.4L537.9,707.0L539.0,705.5L540.5,704.0L542.3,702.5L543.9,701.0L544.8,699.5L545.5,697.7L546.2,695.0L546.9,692.0L547.1,690.5L547.0,689.0L546.4,686.0L545.7,683.0L545.4,681.5L545.5,679.9L547.0,677.0L548.3,675.5L549.6,674.0L550.8,672.5L552.1,671.0L553.6,669.5L554.8,668.0L556.0,665.3L556.5,663.5L557.4,660.5L558.1,659.0L559.3,657.5L560.7,656.0L562.0,653.9L562.8,651.5L563.5,649.2L564.6,647.0L565.9,645.5L567.4,644.0L568.6,642.5L569.5,641.0L571.0,638.6L572.3,636.5L572.9,635.0L573.3,632.0L573.2,629.0L573.4,626.0L574.0,623.0L574.4,621.5L575.3,618.5L575.7,617.0L576.3,614.0L576.5,611.0L576.8,608.0L577.0,605.5L577.0,603.5L577.0,601.8L576.7,599.0L575.6,596.0L574.7,594.5L573.8,593.0L572.6,590.0L572.1,588.5L571.6,585.5L571.6,582.5L571.8,579.5L572.0,576.5L571.7,573.5L571.0,570.5L570.8,569.0L570.8,566.0L571.0,563.6L571.2,561.5L571.7,558.5L572.5,555.7L572.8,554.0L572.8,551.0L572.5,548.9L571.8,546.5L571.0,544.9L569.5,542.5L568.4,540.5L567.8,539.0L566.8,536.0L566.2,534.5L565.0,532.1L564.0,530.0L563.5,528.2L563.1,525.5L563.0,522.5L562.5,519.5L562.0,516.5L561.7,515.0L560.9,512.0L560.5,510.5L559.8,507.5L559.9,504.5L560.4,501.5L560.7,500.0L561.5,497.0L562.0,495.4L562.7,492.5L563.5,489.5L564.3,488.0L565.2,486.5L566.5,484.5L568.0,482.4L569.5,481.1L571.0,480.2L573.4,479.0L575.5,478.0L577.0,477.1L578.6,476.0L580.1,474.5L581.5,472.2L582.7,470.0L584.0,468.5L585.5,467.0L586.9,465.5L587.9,464.0L589.0,462.2L590.5,459.5L591.2,458.0L592.0,456.5L593.5,454.5L595.0,453.2L596.8,452.0L599.4,450.5L601.0,449.5L602.5,448.4L604.0,447.3L606.5,446.0L608.5,445.4L611.5,444.9L614.5,444.7L616.0,444.5L619.0,443.5L620.5,442.6L622.3,441.5L624.9,440.0 M609.6,452.0L611.5,451.8L613.0,452.0L616.0,452.6L619.0,452.7L621.1,453.5L622.1,455.0L622.3,458.0L622.1,461.0L622.0,462.5L621.8,465.5L621.9,468.5L622.0,470.1L622.4,473.0L622.5,476.0L622.3,479.0L622.0,481.6L621.5,483.5L620.5,486.0L619.4,488.0L618.6,489.5L617.5,491.4L616.3,494.0L615.7,495.5L614.5,498.5L613.8,500.0L613.0,501.9L612.1,504.5L611.5,506.7L611.0,509.0L610.5,512.0L610.6,515.0L611.0,518.0L611.1,521.0L611.4,524.0L611.8,525.5L612.8,528.5L613.4,530.0L614.5,532.1L616.0,534.1L617.5,535.4L619.0,536.3L622.0,537.3L623.5,537.9L625.4,539.0L627.4,540.5L629.5,542.0L631.0,542.6L634.0,542.9L637.0,542.2L638.5,541.8L641.5,541.7L643.0,542.1L645.7,543.5L647.5,544.7L649.0,545.7L650.5,546.6L653.0,548.0L655.0,549.1L656.5,550.0L658.2,551.0L660.7,552.5L662.5,553.4L664.0,554.1L667.0,555.2L668.5,555.7L671.5,556.7L673.0,557.0L675.9,557.0L676.1,557.0L679.0,557.3L682.0,557.9L685.0,558.3L688.0,558.2L691.0,558.0L694.0,558.1L697.0,558.2L699.7,558.5L701.5,559.0L704.2,560.0L706.0,560.3L709.0,560.3L711.1,560.0L713.5,559.6L716.5,558.9L718.2,558.5L721.0,557.8L724.0,557.9L725.6,558.5L728.0,560.0L730.0,561.1L731.5,561.9L733.5,563.0L736.0,564.2L737.5,564.6L740.5,564.6L743.5,564.8L746.5,565.4L749.5,565.9L751.0,566.1L754.0,566.0L755.5,565.8L758.5,565.6L761.5,565.6L764.5,565.3L767.5,565.0L770.5,565.3L773.3,566.0L775.0,566.5L777.7,567.5L779.5,568.3L781.0,569.0L784.0,569.9L786.9,570.5L788.5,570.8L791.5,571.1L794.5,570.9L797.5,571.2L799.3,572.0L801.3,573.5L803.1,575.0L804.9,576.5L806.5,578.0L807.9,579.5L809.5,580.8L811.0,581.7L812.8,582.5L815.2,584.0L816.3,585.5L816.6,588.5L816.1,591.5L815.6,594.5L816.4,597.5L817.6,599.0L819.2,600.5L820.3,602.0L821.5,604.2L822.6,606.5L823.2,608.0L824.5,610.9L825.4,612.5L826.3,614.0L827.5,616.7L828.0,618.5L828.4,621.5L828.0,624.5L827.4,626.0L826.0,628.0L824.5,629.4L823.0,630.6L821.0,632.0L818.5,633.1L815.5,633.2L812.5,633.4L811.0,633.8L808.3,635.0L806.5,636.3L805.0,637.9L803.8,639.5L802.7,641.0L801.7,642.5L800.5,644.2L799.0,646.4L797.7,648.5L796.8,650.0L796.0,651.9L795.3,654.5L794.5,656.6L793.1,659.0L792.1,660.5L791.3,662.0L790.5,665.0L790.0,667.5L789.4,669.5L788.5,671.8L787.7,674.0L787.0,676.0L785.8,678.5L785.0,680.0L784.0,681.5L782.5,683.8L781.3,686.0L780.7,687.5L779.6,690.5L778.9,692.0L778.0,693.7L776.5,696.3L775.8,698.0L775.0,700.5L774.4,702.5L773.5,704.5L772.0,706.7L770.5,708.4L769.0,709.6L767.5,710.4L764.5,711.5L763.0,711.8L760.0,711.8L758.2,711.5L755.5,711.2L752.5,711.2L751.0,711.6L748.6,713.0L746.7,714.5L745.0,715.8L743.7,717.5L742.0,718.8L740.5,720.2L739.0,721.1L736.5,722.0L734.5,723.3L733.0,724.2L731.4,725.0L728.6,726.5L727.0,727.5L725.5,728.2L723.7,729.5L721.0,730.6L719.5,731.3L716.5,732.4L715.0,733.0L713.5,734.1L711.2,735.5L709.4,737.0L708.0,738.5L707.5,740.2L706.3,743.0L705.2,744.5L703.9,746.0L702.4,747.5L700.8,749.0L698.6,750.5L697.0,751.3L695.3,752.0L692.5,753.1L691.0,754.0L689.5,755.1L688.0,757.0L686.9,759.5L686.4,761.0L685.0,764.0L684.4,765.5L683.8,768.5L684.0,771.5L685.0,774.3L685.8,776.0L686.6,777.5L687.8,780.5L688.2,782.0L688.8,785.0L689.5,787.8L690.5,789.5L691.9,791.0L693.5,792.5L694.6,794.0L695.5,795.5L697.0,797.6L698.5,799.4L700.0,801.2L700.6,803.0L700.4,806.0L700.0,808.6L699.8,810.5L699.9,813.5L700.1,815.0L700.7,818.0L700.8,821.0L700.9,824.0L701.2,827.0L700.7,830.0L700.0,831.8L699.0,834.5L698.2,836.0L696.6,837.5L695.2,839.0L694.0,840.5L692.5,842.1L690.6,843.5L688.0,844.8L686.5,845.9L685.0,847.8L683.5,848.6L681.4,849.5L679.0,849.7L676.0,849.8L673.0,849.8L670.0,849.9L667.0,849.9L664.0,850.0L661.0,850.0L658.0,850.0L655.0,850.0L652.0,850.0L649.0,850.0L646.0,849.9L643.0,849.8L640.0,849.8L637.0,849.7L634.0,849.7L631.0,849.7L628.0,849.6L625.0,849.5L622.0,849.5L620.5,849.4L617.5,848.5L616.0,848.0L616.8,846.5L617.5,844.6L617.8,842.0L617.5,839.5L617.1,837.5L616.5,834.5L616.2,831.5L616.1,828.5L616.3,825.5L616.6,822.5L616.8,819.5L617.0,816.5L617.3,813.5L617.5,810.5L617.6,809.0L617.6,806.0L617.5,804.0L617.2,801.5L616.3,798.5L615.6,797.0L614.5,794.9L613.3,792.5L612.6,791.0L611.5,789.2L610.0,786.9L609.1,785.0L608.8,782.0L608.9,779.0L608.7,776.0L608.5,774.5L607.7,771.5L607.1,768.5L607.9,765.5L608.7,764.0L610.0,762.2L611.5,760.7L613.0,759.5L614.5,758.0L616.0,756.3L617.5,754.6L619.0,753.3L621.0,752.0L622.8,750.5L623.6,749.0L623.0,747.5L620.5,746.3L617.5,746.2L614.5,747.1L613.0,747.6L610.0,748.4L608.5,749.1L606.7,750.5L605.2,752.0L603.7,753.5L602.0,755.0L599.9,756.5L598.0,757.7L596.5,758.5L594.1,759.5L592.0,760.4L590.5,761.3L588.9,762.5L587.1,764.0L585.2,765.5L583.3,767.0L581.5,768.3L580.0,769.3L578.5,770.2L576.1,771.5L574.0,773.0L572.9,774.5L572.2,776.0L571.7,779.0L571.4,782.0L571.0,783.5L569.5,786.5L568.6,788.0L567.6,789.5L566.5,791.3L565.1,794.0L564.3,795.5L563.5,797.3L562.0,800.0L561.1,801.5L560.2,803.0L559.0,804.6L557.5,806.9L556.5,809.0L556.0,811.1L555.5,813.5L554.7,816.5L554.3,818.0L553.1,821.0L552.5,822.5L551.5,825.3L551.1,827.0L550.0,829.6L549.0,831.5L548.3,833.0L547.3,836.0L546.8,837.5L545.5,840.2L544.5,842.0L543.6,843.5L542.4,845.0L541.0,846.6L539.5,848.2L537.0,849.5L535.0,849.7L532.0,849.9L529.0,850.1L526.0,850.1L523.0,850.2L520.0,850.2L517.0,850.2L514.0,850.3L511.0,850.3L508.0,850.4L505.0,850.4L502.0,850.4L499.0,850.5L496.0,850.5L493.0,850.5L490.0,850.5L487.0,850.5L484.0,850.5L481.0,850.4L478.0,850.4L475.0,850.4L472.0,850.4L469.0,850.4L466.0,850.3L463.0,850.3L460.0,850.3L457.0,850.3L454.0,850.2L451.0,850.2L448.0,850.1L445.0,850.1L442.0,850.1L439.0,850.0L436.0,849.9L433.0,849.8L430.0,849.5L428.5,848.8L427.7,846.5L428.0,843.5L428.4,840.5L429.0,839.0L430.5,837.5L432.6,836.0L434.0,834.5L434.7,833.0L435.3,830.0L436.0,828.2L437.5,826.1L439.0,824.8L440.5,823.5L442.0,822.0L443.5,820.0L444.9,818.0L445.9,816.5L446.9,815.0L448.0,813.4L449.5,811.1L450.3,809.0L449.9,806.0L449.3,804.5L448.1,801.5L447.2,800.0L445.5,798.5L443.5,797.4L442.0,796.0L440.5,794.4L439.0,793.1L437.5,791.5L437.3,789.5L438.0,788.0L439.4,786.5L441.1,785.0L442.5,783.5L443.7,782.0L446.5,780.8L449.5,781.3L452.5,781.8L455.5,781.4L457.0,780.4L458.8,779.0L460.7,777.5L462.3,776.0L463.5,774.5L465.1,773.0L467.5,771.9L470.2,771.5L472.0,771.2L474.6,770.0L476.1,768.5L477.0,767.0L478.0,764.9L479.2,762.5L480.4,761.0L482.0,759.5L483.8,758.0L485.5,756.5L487.0,755.2L488.5,754.0L490.0,752.8L491.5,751.4L493.0,749.7L494.5,748.3L496.0,747.3L499.0,746.6L501.5,746.0L503.5,745.2L505.0,744.4L507.2,743.0L509.5,741.6L511.0,740.7L512.5,740.0L515.5,738.9L517.2,738.5L520.0,737.3L521.5,736.0L522.7,734.0L523.1,732.5L524.5,729.5L526.0,728.1L527.5,727.1L529.0,726.1L530.5,724.9L532.0,723.4L533.5,721.6L535.0,719.5L536.2,717.5L537.1,716.0L538.0,714.5L539.5,712.2L540.8,710.0L541.7,708.5L542.9,707.0L544.5,705.5L546.4,704.0L548.0,702.5L549.0,701.0L550.0,698.0L550.6,696.5L551.5,695.0L553.0,693.3L554.5,691.3L555.4,689.0L555.6,686.0L555.3,683.0L555.3,680.0L556.0,677.0L556.5,675.5L557.5,673.7L558.9,671.0L559.6,669.5L560.5,667.5L561.8,665.0L562.6,663.5L563.6,662.0L565.0,659.4L565.7,657.5L566.5,655.5L568.0,653.3L569.5,652.1L571.0,651.5L572.8,650.0L573.7,647.0L574.1,645.5L575.3,642.5L576.0,641.0L577.0,638.1L577.4,636.5L577.9,633.5L578.2,630.5L578.5,628.3L578.8,626.0L579.2,623.0L580.0,620.6L580.9,618.5L581.6,617.0L582.4,614.0L582.5,611.0L582.5,608.0L582.1,605.0L581.5,602.8L581.0,600.5L580.4,597.5L579.9,596.0L578.5,593.0L577.7,591.5L577.0,590.0L576.1,587.0L575.9,584.0L576.5,581.0L577.0,578.8L577.1,576.5L576.9,575.0L576.2,572.0L575.9,569.0L575.6,566.0L575.4,564.5L575.2,561.5L575.5,559.5L576.1,557.0L577.0,554.1L577.2,552.5L577.1,549.5L576.7,548.0L575.5,545.1L574.4,543.5L573.2,542.0L572.0,540.5L571.0,538.8L569.8,536.0L569.1,534.5L568.0,532.1L567.1,530.0L566.5,528.4L566.0,525.5L565.7,522.5L565.3,519.5L565.0,516.5L564.9,515.0L564.4,512.0L563.8,509.0L564.1,506.0L565.0,503.4L565.7,501.5L566.0,498.5L566.2,495.5L566.5,494.0L568.0,491.2L569.5,490.0L571.0,489.1L572.8,488.0L574.6,486.5L576.2,485.0L578.1,483.5L580.0,482.4L581.5,481.8L584.2,480.5L585.7,479.0L586.5,477.5L587.5,474.7L588.3,473.0L589.3,471.5L590.5,469.6L591.7,467.0L592.4,465.5L593.5,463.4L595.0,461.3L596.5,459.6L598.0,458.6L601.0,458.4L604.0,458.5L605.5,457.6L607.0,455.0L607.8,453.5L609.6,452.0 M610.9,462.5L613.0,461.5L615.5,462.5L616.0,464.0L616.3,467.0L616.8,470.0L617.5,472.7L617.8,474.5L617.8,477.5L617.5,479.0L616.2,482.0L615.3,483.5L614.3,485.0L613.0,487.7L612.1,489.5L611.3,491.0L610.0,493.4L609.0,495.5L608.3,497.0L607.0,499.6L606.3,501.5L606.0,504.5L606.5,507.5L606.8,510.5L607.0,512.1L607.4,515.0L607.7,518.0L607.6,521.0L607.5,524.0L607.9,527.0L608.5,529.7L608.9,531.5L609.8,534.5L610.6,536.0L611.5,537.6L613.0,539.5L614.5,540.9L616.1,542.0L619.0,542.9L622.0,543.4L623.5,543.9L625.4,545.0L627.8,546.5L629.5,547.2L632.5,547.9L634.0,548.2L637.0,548.9L638.5,549.6L641.5,551.0L643.0,551.4L645.1,552.5L647.2,554.0L649.0,555.2L650.5,556.0L652.3,557.0L655.0,558.1L656.5,558.6L659.5,559.5L661.5,560.0L664.0,560.7L666.2,561.5L668.5,562.8L670.0,563.6L673.0,563.9L675.6,563.0L677.5,562.4L680.5,562.4L683.5,562.7L686.5,562.6L689.5,562.8L691.4,563.0L694.0,563.4L697.0,563.8L700.0,564.3L701.5,564.6L704.5,564.9L707.5,565.2L710.5,565.0L712.7,564.5L715.0,564.2L718.0,563.9L721.0,564.0L722.6,564.5L724.9,566.0L727.0,567.5L728.5,568.2L731.0,569.0L733.0,569.5L736.0,570.1L737.9,570.5L740.5,571.0L743.5,571.4L746.5,571.1L749.5,571.2L752.5,571.7L755.5,571.7L758.5,571.4L761.5,570.8L763.0,570.5L766.0,569.9L769.0,569.9L771.9,570.5L773.5,571.0L775.5,572.0L778.0,573.4L779.5,574.1L781.3,575.0L784.0,576.1L785.5,576.7L788.5,577.9L790.0,578.6L791.7,579.5L794.2,581.0L796.0,581.9L797.5,582.5L800.4,584.0L802.0,585.4L803.2,587.0L803.9,588.5L805.0,591.0L806.5,592.9L808.0,594.3L809.1,596.0L809.6,597.5L810.4,600.5L811.0,602.4L812.5,605.0L813.4,606.5L814.0,608.0L815.2,611.0L816.1,612.5L817.4,614.0L818.8,615.5L820.3,617.0L821.5,618.5L822.5,621.5L821.5,624.4L820.0,625.4L817.0,625.7L815.2,626.0L812.5,627.4L811.0,628.2L809.2,629.0L806.5,629.8L805.0,630.6L803.5,632.0L802.0,634.1L800.5,636.4L799.3,638.0L798.1,639.5L796.9,641.0L795.8,642.5L794.5,644.3L793.0,645.9L791.5,647.3L790.0,649.1L789.1,651.5L788.9,654.5L788.5,656.3L787.4,659.0L786.9,660.5L786.2,663.5L785.5,666.4L784.8,668.0L784.0,669.8L783.2,672.5L782.5,675.1L781.7,677.0L780.8,678.5L779.5,680.2L778.0,682.2L776.8,684.5L776.4,686.0L775.5,689.0L774.9,690.5L773.5,693.1L772.5,695.0L771.6,696.5L770.5,698.1L769.0,700.0L767.5,701.8L766.0,703.5L764.5,704.7L762.4,705.5L760.0,705.8L757.0,705.9L754.0,706.6L752.5,707.2L749.6,708.5L748.0,709.3L746.5,710.1L743.5,711.5L742.0,712.5L740.5,713.9L739.5,716.0L738.4,717.5L736.9,719.0L734.5,720.3L733.0,721.4L731.5,722.1L728.8,723.5L727.0,724.4L725.5,725.1L723.3,726.5L721.0,727.8L719.5,728.5L716.9,729.5L715.0,730.3L713.3,731.0L711.0,732.5L709.0,733.5L707.5,734.3L705.7,735.5L703.4,737.0L701.5,737.9L698.9,738.5L697.0,739.4L695.5,740.5L693.5,741.5L691.0,742.8L689.5,744.2L688.3,746.0L686.9,747.5L685.0,748.5L683.0,749.0L680.5,749.3L677.5,749.2L676.0,748.8L673.0,747.7L671.5,747.1L668.5,746.1L667.0,745.8L664.0,745.1L661.2,744.5L659.5,744.1L656.5,743.1L655.0,742.3L653.5,741.4L650.5,740.4L647.5,741.1L646.0,741.7L643.0,742.9L641.5,743.4L638.5,743.2L637.0,742.6L634.0,741.6L632.5,741.2L629.5,740.9L626.5,740.9L623.5,740.8L620.5,740.6L617.5,740.5L614.5,740.8L611.5,740.9L608.5,741.2L607.0,741.9L605.2,743.0L603.1,744.5L601.0,745.9L599.5,746.9L598.0,748.1L596.5,749.4L595.0,750.6L593.1,752.0L590.7,753.5L589.0,754.4L587.5,755.2L584.9,756.5L583.0,757.6L581.5,758.5L580.0,759.6L578.5,761.1L577.0,762.5L575.3,764.0L573.8,765.5L572.5,767.3L571.0,769.4L569.5,771.5L568.6,773.0L568.0,774.5L567.6,777.5L567.5,780.5L566.8,783.5L566.2,785.0L565.0,787.4L564.0,789.5L563.2,791.0L562.0,793.2L560.8,795.5L559.8,797.0L558.7,798.5L557.3,800.0L556.0,801.5L554.5,803.3L553.0,805.7L552.3,807.5L551.7,810.5L551.4,812.0L550.6,815.0L550.0,816.5L548.5,818.9L547.0,820.9L546.1,822.5L545.5,824.3L544.9,827.0L544.2,830.0L543.8,831.5L542.8,834.5L542.2,836.0L541.0,838.9L540.5,840.5L539.5,842.9L538.3,845.0L537.3,846.5L536.4,848.0L533.6,849.5L532.0,849.6L529.0,849.8L526.0,849.9L523.0,849.9L520.0,849.9L517.0,850.0L514.0,850.0L511.0,850.1L508.0,850.2L505.0,850.2L502.0,850.3L499.0,850.3L496.0,850.3L493.0,850.3L490.0,850.3L487.0,850.3L484.0,850.3L481.0,850.3L478.0,850.3L475.0,850.3L472.0,850.3L469.0,850.2L466.0,850.2L463.0,850.1L460.0,850.1L457.0,850.0L454.0,850.0L451.0,849.9L448.0,849.9L445.0,849.8L442.0,849.8L439.0,849.8L436.0,849.7L433.7,849.5L431.5,848.1L431.5,847.5L432.4,845.0L433.3,843.5L434.6,842.0L436.3,840.5L437.9,839.0L439.0,837.5L440.0,834.5L440.5,831.5L441.3,830.0L443.2,828.5L445.0,827.0L446.3,825.5L447.2,824.0L448.0,822.4L449.5,819.6L450.7,818.0L452.2,816.5L454.0,815.0L455.5,813.7L456.9,812.0L457.7,810.5L457.9,807.5L457.2,804.5L456.9,803.0L456.2,800.0L455.7,797.0L455.3,795.5L454.8,792.5L455.5,790.8L457.4,789.5L459.9,788.0L461.5,786.7L463.0,785.3L464.5,784.0L466.0,782.5L467.5,780.8L469.0,779.2L470.5,778.1L472.0,777.0L473.5,775.7L475.0,774.2L476.5,772.7L478.0,771.1L479.5,768.9L480.3,767.0L481.0,765.4L482.5,763.0L484.0,761.3L485.5,760.0L487.0,758.8L488.5,757.7L490.2,756.5L492.7,755.0L494.5,753.9L496.0,752.8L497.5,751.8L499.9,750.5L502.0,749.5L503.5,748.8L506.0,747.5L508.0,746.5L509.5,745.8L512.2,744.5L514.0,743.7L515.9,743.0L518.5,742.3L520.4,741.5L522.9,740.0L524.5,738.9L526.0,737.6L527.5,735.9L528.6,734.0L529.4,732.5L530.9,731.0L532.8,729.5L534.2,728.0L535.3,726.5L536.5,724.3L537.4,722.0L538.0,720.4L539.5,717.5L540.4,716.0L541.5,714.5L542.6,713.0L544.0,711.1L545.5,709.1L547.0,707.5L548.5,706.2L550.0,705.0L551.5,703.9L553.8,702.5L556.0,701.4L557.5,699.7L558.2,698.0L558.8,695.0L559.1,693.5L559.8,690.5L560.5,687.5L560.7,686.0L560.9,683.0L561.5,680.0L562.0,678.4L562.6,675.5L563.2,672.5L563.6,671.0L564.9,668.0L565.7,666.5L566.5,664.9L567.9,662.0L568.5,660.5L569.5,658.2L571.0,656.7L572.5,656.0L575.5,654.7L577.0,653.5L578.2,651.5L578.6,650.0L579.5,647.0L580.0,645.3L580.8,642.5L581.5,639.8L582.3,638.0L583.1,636.5L584.4,633.5L584.4,630.5L584.0,627.5L583.9,624.5L584.4,621.5L584.9,620.0L585.6,617.0L585.9,614.0L586.0,612.5L586.3,609.5L586.6,606.5L586.0,603.6L585.4,602.0L584.5,599.8L583.8,597.5L583.0,594.8L582.4,593.0L581.5,590.7L580.9,588.5L580.7,585.5L581.0,582.5L581.4,579.5L581.3,576.5L580.5,573.5L580.0,571.9L579.4,569.0L579.0,566.0L578.7,563.0L578.8,560.0L579.6,557.0L580.2,555.5L581.0,552.5L581.0,549.5L580.2,546.5L579.5,545.0L578.4,543.5L577.0,541.9L575.5,540.4L574.0,538.5L572.5,536.1L571.7,534.5L570.9,533.0L569.5,530.3L568.8,528.5L568.2,525.5L568.1,522.5L568.0,520.4L567.8,518.0L567.6,515.0L567.4,512.0L567.2,509.0L568.0,506.0L568.9,504.5L569.8,503.0L571.0,500.0L571.2,498.5L571.6,495.5L572.5,494.0L574.3,492.5L576.2,491.0L578.0,489.5L580.0,488.1L581.5,487.3L584.5,486.5L586.0,486.0L587.6,485.0L589.1,483.5L590.5,481.9L592.0,480.2L593.5,478.3L594.6,476.0L595.2,474.5L595.7,471.5L596.2,468.5L596.7,467.0L598.3,465.5L601.0,465.0L604.0,464.8L607.0,464.0L608.5,463.5L610.9,462.5 M636.9,753.5L638.5,752.6L641.5,753.1L643.0,753.8L644.9,755.0L646.9,756.5L648.3,758.0L649.5,759.5L650.7,761.0L652.6,762.5L655.0,763.5L656.6,764.0L659.5,764.8L662.5,765.3L664.6,765.5L667.0,765.8L670.0,766.4L671.9,767.0L674.2,768.5L675.4,770.0L676.4,771.5L677.5,773.7L678.6,776.0L679.4,777.5L680.5,779.2L682.0,781.3L683.4,783.5L684.2,785.0L685.0,786.9L686.2,789.5L687.1,791.0L688.3,792.5L689.6,794.0L691.0,795.5L692.5,797.5L694.0,799.9L695.1,801.5L696.0,803.0L696.5,806.0L696.4,809.0L696.3,812.0L696.4,815.0L696.6,818.0L696.1,821.0L695.5,823.5L695.3,825.5L695.4,828.5L695.4,831.5L694.0,834.1L692.5,835.5L691.0,836.7L689.5,837.7L687.6,839.0L685.6,840.5L684.1,842.0L682.8,843.5L681.6,845.0L680.5,846.7L679.0,848.3L676.0,849.1L674.0,849.5L671.5,849.6L668.5,849.6L665.5,849.7L662.5,849.7L659.5,849.8L656.5,849.7L653.5,849.7L650.5,849.7L647.5,849.7L644.5,849.6L642.4,849.5L640.0,849.0L637.0,848.6L634.0,848.5L631.0,848.1L631.0,846.5L629.6,843.5L628.0,842.2L626.5,841.3L625.0,840.4L623.5,838.9L622.0,836.1L621.5,834.5L620.8,831.5L620.6,828.5L620.7,825.5L621.1,822.5L621.3,819.5L621.3,816.5L621.3,813.5L621.8,810.5L622.2,809.0L623.2,806.0L623.5,804.5L623.5,801.5L623.2,800.0L622.0,797.1L621.4,795.5L620.5,793.5L619.2,791.0L618.3,789.5L617.5,787.9L616.2,785.0L615.7,783.5L615.2,780.5L614.9,777.5L614.5,774.5L614.2,773.0L613.7,770.0L614.5,767.3L616.0,766.0L617.5,765.1L619.7,764.0L622.0,763.1L623.8,762.5L626.5,761.1L628.0,759.8L629.5,758.6L631.0,757.6L632.8,756.5L634.9,755.0L636.9,753.5 M605.0,471.5L607.0,471.1L608.5,472.6L608.7,474.5L608.7,477.5L608.5,479.0L607.7,482.0L607.2,485.0L606.9,486.5L605.5,488.9L604.0,490.2L602.5,491.3L601.0,493.0L600.6,495.5L601.0,498.0L601.2,500.0L601.3,503.0L601.6,506.0L602.3,509.0L602.6,510.5L603.2,513.5L604.0,515.9L604.3,518.0L604.1,521.0L603.8,522.5L603.4,525.5L603.8,528.5L604.1,530.0L604.7,533.0L605.3,536.0L605.8,537.5L607.0,539.7L608.5,541.5L610.0,542.9L611.5,544.0L613.2,545.0L616.0,546.4L617.5,547.1L619.6,548.0L622.0,549.1L623.5,549.7L626.4,551.0L628.0,551.7L629.5,552.5L632.0,554.0L634.0,555.4L635.5,556.5L637.0,557.3L640.0,558.5L641.5,558.9L644.5,559.6L646.6,560.0L649.0,560.8L650.5,561.7L652.7,563.0L655.0,564.2L656.5,564.8L659.5,565.5L661.6,566.0L664.0,566.9L665.5,567.9L667.4,569.0L670.0,569.5L672.3,569.0L674.5,568.2L676.0,567.5L679.0,566.7L682.0,566.7L685.0,566.7L688.0,566.8L691.0,567.5L692.5,567.9L695.5,568.3L698.5,568.6L700.3,569.0L703.0,570.0L704.5,570.7L707.5,571.8L710.5,571.8L713.5,571.1L715.9,570.5L718.0,570.2L719.9,570.5L722.5,571.8L724.0,572.5L727.0,573.0L730.0,573.3L731.5,573.5L734.5,574.1L737.5,574.5L739.5,575.0L742.0,575.7L745.0,575.8L748.0,575.4L751.0,575.5L754.0,575.7L757.0,575.6L760.0,575.4L762.3,575.0L764.5,574.3L767.5,573.7L770.5,574.1L772.7,575.0L775.0,575.9L776.7,576.5L779.5,577.5L781.0,578.2L783.5,579.5L785.5,580.9L787.0,582.3L788.4,584.0L789.8,585.5L791.5,586.7L793.0,587.4L795.0,588.5L796.9,590.0L798.0,591.5L799.0,593.5L800.3,596.0L801.4,597.5L802.8,599.0L804.0,600.5L805.0,602.8L805.6,605.0L806.5,607.8L807.5,609.5L808.5,611.0L809.6,612.5L811.0,615.1L811.6,617.0L811.0,619.4L809.5,620.9L808.0,621.9L806.1,623.0L804.0,624.5L802.5,626.0L801.4,627.5L800.5,629.2L799.3,632.0L798.6,633.5L797.5,635.3L796.0,637.1L794.5,638.8L793.0,640.5L791.5,642.3L790.0,643.6L788.5,644.5L786.8,645.5L784.6,647.0L782.8,648.5L781.7,650.0L781.6,653.0L782.2,656.0L782.5,659.0L782.5,659.1L782.3,662.0L781.3,665.0L780.4,666.5L779.5,668.2L778.6,671.0L778.0,673.3L776.7,675.5L775.0,676.9L773.5,677.9L772.3,680.0L771.9,681.5L771.0,684.5L770.4,686.0L769.0,688.3L768.2,690.5L767.5,692.7L766.3,695.0L765.1,696.5L763.7,698.0L762.1,699.5L760.0,700.5L757.7,701.0L755.5,702.2L754.0,703.2L752.3,704.0L749.5,704.8L746.5,704.5L744.4,705.5L742.8,707.0L741.5,708.5L740.1,710.0L738.8,711.5L737.5,714.5L736.8,716.0L735.7,717.5L733.3,719.0L731.5,720.2L730.0,720.9L727.6,722.0L725.5,723.0L724.0,723.7L722.1,725.0L719.5,726.4L718.0,727.1L715.6,728.0L713.5,728.7L711.7,729.5L709.0,730.9L707.5,731.5L705.0,732.5L703.0,733.5L701.5,734.4L698.5,735.5L697.0,736.1L695.1,737.0L692.5,738.0L690.5,738.5L688.0,739.2L685.3,740.0L683.5,740.3L680.5,740.4L677.5,740.9L674.5,740.8L672.0,740.0L670.0,738.6L669.1,737.0L668.5,734.5L668.0,732.5L667.8,729.5L667.5,726.5L667.0,724.8L665.5,722.8L664.0,722.0L661.0,721.1L659.5,720.4L658.0,718.6L656.5,717.1L653.5,716.2L650.5,717.2L649.0,718.2L647.5,719.2L645.6,720.5L643.7,722.0L642.2,723.5L640.2,725.0L638.5,725.7L635.5,725.7L632.5,725.4L629.5,725.4L626.5,725.2L625.0,725.0L622.0,724.0L620.5,723.1L617.5,722.0L616.0,721.8L613.0,721.3L610.0,721.4L608.5,722.0L607.0,723.6L605.7,726.5L605.3,728.0L604.1,731.0L602.5,732.1L599.5,731.2L598.0,730.2L596.5,731.7L596.0,734.0L595.2,737.0L594.8,738.5L593.5,741.1L592.0,742.6L590.5,744.2L589.0,745.9L587.5,747.3L586.0,748.4L584.5,749.5L582.8,750.5L580.1,752.0L578.5,752.9L577.0,754.1L575.5,755.7L574.0,757.4L572.5,758.7L571.0,759.9L569.5,761.8L568.8,764.0L568.0,766.5L567.1,768.5L566.2,770.0L565.0,771.9L563.6,774.5L563.1,776.0L562.6,779.0L562.1,782.0L561.8,783.5L560.9,786.5L560.4,788.0L559.0,790.6L557.8,792.5L556.8,794.0L555.8,795.5L554.5,797.0L553.0,798.8L551.5,801.1L550.6,803.0L549.9,804.5L548.8,807.5L548.5,809.0L547.9,812.0L547.0,814.4L545.7,816.5L544.6,818.0L543.6,819.5L542.5,821.9L541.7,824.0L541.0,826.5L540.6,828.5L540.2,831.5L539.5,833.5L538.2,836.0L537.6,837.5L536.6,840.5L536.1,842.0L535.0,844.5L533.9,846.5L533.3,848.0L530.5,849.3L529.0,849.5L526.0,849.6L523.0,849.7L520.0,849.7L517.0,849.8L514.0,849.8L511.0,849.9L508.0,850.0L505.0,850.1L502.0,850.1L499.0,850.2L496.0,850.2L493.0,850.2L490.0,850.2L487.0,850.2L484.0,850.2L481.0,850.1L478.0,850.1L475.0,850.1L472.0,850.1L469.0,850.0L466.0,850.0L463.0,849.9L460.0,849.9L457.0,849.8L454.0,849.8L451.0,849.7L448.0,849.7L445.0,849.6L442.0,849.5L439.9,849.5L437.5,849.0L435.2,848.0L436.0,846.5L437.5,844.9L439.3,843.5L441.2,842.0L442.5,840.5L443.5,838.9L445.0,836.0L445.6,834.5L446.5,832.9L448.0,830.5L449.2,828.5L450.2,827.0L451.1,825.5L452.5,823.3L454.0,821.0L455.0,819.5L456.2,818.0L457.7,816.5L459.3,815.0L460.8,813.5L461.8,812.0L462.4,809.0L461.7,806.0L461.3,804.5L461.0,801.5L461.5,798.8L462.3,797.0L463.1,795.5L464.5,793.0L465.6,791.0L466.8,789.5L468.1,788.0L469.4,786.5L470.7,785.0L472.0,783.5L473.5,782.0L475.0,780.1L476.5,777.7L477.5,776.0L478.6,774.5L479.9,773.0L481.0,771.5L482.5,768.6L483.1,767.0L484.0,765.2L485.5,763.3L487.0,762.0L488.5,760.9L490.7,759.5L493.0,758.2L494.5,757.4L496.1,756.5L498.6,755.0L500.5,753.8L502.0,752.9L503.5,751.9L506.1,750.5L508.0,749.7L510.8,749.0L512.5,748.6L515.3,747.5L517.0,746.7L518.6,746.0L521.3,744.5L523.0,743.4L524.5,742.3L526.0,741.5L529.0,740.3L530.5,739.7L532.4,738.5L533.8,737.0L535.0,735.0L536.5,732.7L537.7,731.0L538.5,729.5L539.5,727.1L540.1,725.0L540.5,722.0L541.0,720.0L542.2,717.5L543.2,716.0L544.4,714.5L545.7,713.0L547.0,711.5L548.5,709.8L550.0,708.4L552.2,707.0L554.5,706.2L557.5,706.0L559.7,705.5L562.0,704.3L563.5,703.0L564.9,701.0L565.2,699.5L565.0,697.2L564.7,695.0L564.3,692.0L564.5,689.0L564.9,686.0L565.2,684.5L566.0,681.5L566.6,680.0L567.4,677.0L567.9,674.0L568.0,672.1L568.4,669.5L569.5,666.7L570.3,665.0L571.1,663.5L572.5,661.0L574.0,659.4L575.5,658.4L577.0,657.5L578.9,656.0L580.1,654.5L581.4,651.5L581.9,650.0L582.9,647.0L583.5,645.5L584.5,642.8L585.3,641.0L586.1,639.5L587.5,636.7L588.0,635.0L588.0,632.0L587.5,629.5L587.1,627.5L587.0,624.5L587.5,622.4L588.2,620.0L588.6,617.0L588.7,614.0L588.9,611.0L589.2,609.5L589.9,606.5L590.0,603.5L589.0,600.9L588.1,599.0L587.3,597.5L586.3,594.5L586.0,593.0L585.5,590.0L585.3,587.0L585.5,584.0L585.8,581.0L585.8,578.0L585.0,575.0L584.3,573.5L583.0,570.9L582.3,569.0L581.8,566.0L581.8,563.0L582.2,560.0L583.0,557.7L584.1,555.5L584.7,554.0L585.3,551.0L584.7,548.0L584.2,546.5L583.0,544.4L581.5,542.5L580.0,541.2L578.5,539.9L577.0,538.4L575.5,536.6L574.1,534.5L573.1,533.0L572.2,531.5L571.0,529.1L570.3,527.0L570.2,524.0L570.4,521.0L570.4,518.0L570.3,515.0L570.4,512.0L570.8,509.0L571.3,507.5L572.5,505.3L574.0,503.2L575.3,501.5L576.2,500.0L577.0,498.3L578.3,495.5L579.5,494.0L581.3,492.5L583.0,491.8L586.0,491.3L587.7,491.0L590.5,489.8L592.0,488.8L593.5,487.6L595.0,486.4L596.6,485.0L598.1,483.5L599.5,481.2L600.5,479.0L601.0,477.2L602.2,474.5L603.2,473.0L605.0,471.5 M633.2,762.5L635.5,761.6L638.5,761.0L641.5,761.6L643.3,762.5L645.9,764.0L647.5,764.9L649.0,765.8L651.5,767.0L653.5,767.7L656.5,768.4L658.0,768.8L661.0,769.8L662.5,770.2L665.5,770.8L667.7,771.5L670.0,772.9L671.1,774.5L671.6,776.0L672.6,779.0L673.8,780.5L675.4,782.0L676.8,783.5L678.1,785.0L679.2,786.5L680.5,788.1L682.0,789.7L683.5,791.3L685.0,793.0L686.5,795.0L687.9,797.0L688.9,798.5L689.9,800.0L691.0,801.6L692.5,804.5L692.9,806.0L693.3,809.0L693.2,812.0L693.2,815.0L693.0,818.0L692.5,820.2L691.7,822.5L691.2,825.5L691.2,828.5L690.8,830.0L689.5,831.5L687.8,833.0L686.3,834.5L684.8,836.0L683.4,837.5L682.0,839.3L680.5,841.2L679.0,842.9L677.5,844.3L676.0,845.4L674.1,846.5L672.1,848.0L670.0,848.3L667.0,848.7L664.0,849.0L661.0,849.3L658.0,849.4L655.0,849.2L652.0,849.0L649.0,848.9L646.0,848.6L643.5,848.0L642.6,846.5L641.5,845.0L639.9,843.5L637.9,842.0L636.2,840.5L635.2,839.0L634.0,837.0L632.5,835.4L630.9,834.5L628.0,833.1L626.6,831.5L626.1,830.0L626.0,827.0L626.5,824.6L626.8,822.5L626.5,821.0L625.6,818.0L625.1,815.0L625.3,812.0L626.1,809.0L626.6,807.5L627.3,804.5L627.5,801.5L627.1,798.5L626.5,795.7L626.0,794.0L625.0,791.9L623.5,789.6L622.3,788.0L621.5,786.5L620.5,783.6L620.4,782.0L620.5,780.2L621.1,777.5L622.0,775.3L623.0,773.0L623.6,771.5L624.8,768.5L626.1,767.0L628.0,765.5L629.5,764.5L631.0,763.5L633.2,762.5 M590.4,497.0L592.0,496.2L595.0,496.6L596.3,498.5L596.7,500.0L596.9,503.0L597.4,506.0L598.0,508.0L598.6,510.5L599.1,513.5L599.5,515.4L600.2,518.0L600.4,521.0L600.0,524.0L599.9,527.0L600.2,530.0L600.6,533.0L600.2,536.0L599.5,539.0L601.0,541.8L602.5,542.8L604.0,543.8L605.7,545.0L607.8,546.5L610.0,547.9L611.5,548.6L613.3,549.5L615.2,551.0L616.3,552.5L617.5,554.5L619.0,556.2L622.0,556.9L625.0,556.3L627.7,557.0L629.5,558.1L631.0,559.2L632.5,560.0L635.5,561.2L637.0,562.0L638.5,563.0L640.0,564.7L641.5,566.4L644.5,566.8L647.5,566.9L649.2,567.5L651.4,569.0L653.5,570.1L655.9,570.5L658.0,570.6L661.0,571.2L662.5,572.0L664.2,573.5L666.1,575.0L668.5,575.9L671.5,575.4L673.0,574.8L675.3,573.5L677.4,572.0L679.0,571.3L682.0,570.8L685.0,571.0L688.0,571.1L691.0,571.6L692.8,572.0L695.5,572.6L698.4,573.5L700.0,574.0L703.0,575.0L704.5,575.4L707.5,576.2L709.0,576.5L712.0,576.8L715.0,576.9L716.6,578.0L718.0,580.6L719.4,582.5L721.0,583.6L724.0,583.3L725.5,581.8L727.0,579.5L728.5,578.3L731.5,578.3L734.5,578.7L737.5,578.8L740.5,579.1L743.5,579.5L746.5,579.3L749.5,578.9L752.5,578.9L755.5,579.0L758.5,579.0L761.5,578.9L764.5,578.3L766.1,578.0L769.0,577.8L770.5,578.0L773.5,578.7L776.5,579.2L778.0,579.7L780.7,581.0L782.5,582.3L784.0,583.7L785.4,585.5L786.6,587.0L787.9,588.5L789.7,590.0L791.5,591.0L793.0,591.9L794.5,593.0L796.0,595.1L797.0,597.5L797.5,599.2L798.9,602.0L800.0,603.5L801.1,605.0L802.0,606.8L803.0,609.5L803.6,611.0L804.7,614.0L803.5,616.6L802.0,617.7L800.5,619.2L799.6,621.5L799.0,623.3L797.9,626.0L797.4,627.5L796.6,630.5L796.0,632.1L794.5,634.6L793.0,636.3L791.5,637.7L790.0,639.1L788.5,640.3L787.0,641.1L784.5,642.5L782.5,643.9L781.0,644.9L779.5,646.1L778.0,647.2L776.5,648.6L775.6,651.5L775.8,654.5L776.2,657.5L776.5,660.0L776.5,661.3L775.9,663.5L775.0,666.1L774.5,668.0L773.5,670.2L772.0,671.6L770.5,672.8L769.0,674.6L767.8,677.0L767.2,678.5L766.0,680.8L764.8,683.0L764.3,684.5L763.9,687.5L763.5,690.5L762.9,692.0L761.5,693.6L758.5,694.8L757.0,695.4L754.9,696.5L753.2,698.0L751.4,699.5L749.5,699.8L746.5,699.7L743.9,701.0L742.5,702.5L741.5,704.0L740.5,705.5L739.0,707.6L737.5,709.7L736.4,711.5L735.8,713.0L734.6,716.0L733.0,717.1L731.5,718.2L730.0,719.0L727.0,720.1L725.5,720.8L723.1,722.0L721.0,723.3L719.5,724.2L717.8,725.0L715.0,725.9L713.1,726.5L710.5,727.2L707.5,728.0L706.0,728.1L703.0,728.2L700.0,728.4L698.1,729.5L696.6,731.0L694.7,732.5L692.5,733.5L690.7,734.0L688.0,734.6L685.0,735.0L682.0,734.1L680.5,733.1L679.0,732.0L677.1,731.0L674.5,729.9L673.0,728.5L672.2,726.5L671.9,723.5L671.5,721.1L670.5,719.0L669.5,717.5L668.5,714.5L668.3,713.0L667.0,710.0L665.5,708.9L664.0,708.3L661.0,708.5L659.5,708.9L656.5,709.7L654.2,710.0L652.0,710.2L649.0,711.1L647.5,711.7L644.5,712.5L641.5,711.8L640.0,711.0L638.4,710.0L635.6,708.5L634.0,708.1L631.0,708.1L629.5,708.6L627.1,710.0L625.7,711.5L624.3,713.0L622.0,714.1L619.0,713.8L616.8,713.0L614.5,712.1L613.0,711.4L610.0,710.6L607.0,710.3L604.0,711.4L602.5,712.2L600.3,713.0L598.0,713.3L596.5,713.0L593.5,712.0L590.5,712.1L589.0,713.7L588.0,716.0L587.1,717.5L586.0,719.0L584.5,720.9L583.9,723.5L585.2,725.0L586.5,726.5L587.4,729.5L587.5,731.0L587.3,732.5L586.0,735.2L585.2,737.0L584.7,740.0L584.2,741.5L583.0,743.9L581.5,745.6L580.0,746.7L578.3,747.5L575.5,748.5L573.4,749.0L571.0,750.3L569.9,752.0L569.1,753.5L568.0,755.3L566.5,757.7L565.6,759.5L565.0,761.2L564.1,764.0L563.5,766.3L562.5,768.5L561.7,770.0L560.5,772.5L559.7,774.5L559.0,776.7L558.3,779.0L557.5,782.0L557.1,783.5L556.0,786.1L554.7,788.0L553.7,789.5L552.9,791.0L551.5,794.0L550.7,795.5L549.8,797.0L548.5,799.4L547.4,801.5L546.7,803.0L545.6,806.0L545.2,807.5L544.7,810.5L544.0,812.8L542.9,815.0L541.9,816.5L541.0,818.0L539.5,820.8L538.5,822.5L537.5,824.0L536.5,825.7L535.8,828.5L535.7,831.5L535.0,833.7L533.8,836.0L533.1,837.5L532.1,840.5L531.7,842.0L530.6,845.0L530.0,846.5L529.0,848.2L526.0,848.8L523.0,849.1L520.0,849.4L518.5,849.5L515.5,849.6L512.5,849.7L509.5,849.8L506.5,849.9L503.5,849.9L500.5,850.0L497.5,850.0L494.5,850.0L491.5,850.1L488.5,850.0L485.5,850.0L482.5,850.0L479.5,850.0L476.5,850.0L473.5,850.0L470.5,849.9L467.5,849.8L464.5,849.8L461.5,849.7L458.5,849.7L455.5,849.6L452.5,849.5L451.0,849.4L448.0,849.0L445.0,848.4L442.8,848.0L444.0,846.5L445.3,845.0L446.5,843.2L447.9,840.5L448.6,839.0L449.5,837.1L450.5,834.5L451.1,833.0L452.5,830.2L453.6,828.5L454.7,827.0L455.7,825.5L457.0,823.6L458.5,821.3L459.8,819.5L461.2,818.0L463.0,816.5L464.5,815.1L465.4,813.5L465.8,810.5L465.4,807.5L464.8,804.5L465.3,801.5L466.4,800.0L467.8,798.5L469.0,796.8L470.4,794.0L471.3,792.5L472.6,791.0L474.0,789.5L475.1,788.0L476.5,785.5L477.5,783.5L478.3,782.0L479.5,779.2L480.2,777.5L481.1,776.0L482.5,774.0L484.0,771.6L484.7,770.0L485.5,767.7L486.7,765.5L488.4,764.0L490.0,763.0L491.5,762.2L493.9,761.0L496.0,760.0L497.5,759.2L499.8,758.0L502.0,756.6L503.5,755.6L505.0,754.5L506.8,753.5L509.5,752.8L512.5,752.9L515.5,752.4L517.0,751.8L519.1,750.5L521.1,749.0L522.8,747.5L524.4,746.0L526.0,744.7L527.5,744.0L530.5,743.2L532.0,742.8L534.6,741.5L536.4,740.0L537.9,738.5L539.5,737.1L541.0,736.0L542.5,734.9L544.0,732.8L544.2,731.0L543.9,729.5L543.5,726.5L543.3,723.5L543.3,720.5L544.0,718.6L545.5,716.3L547.0,714.7L548.5,713.2L550.0,711.8L551.5,710.6L553.0,709.8L556.0,709.8L557.5,710.2L560.5,711.4L562.0,711.8L565.0,711.9L567.4,711.5L569.5,710.0L570.5,708.5L571.5,707.0L572.5,704.3L572.5,702.5L572.1,701.0L571.0,698.0L570.6,696.5L570.1,693.5L569.6,690.5L569.3,689.0L569.0,686.0L569.1,683.0L569.5,680.6L570.0,678.5L570.7,675.5L571.0,673.9L571.6,671.0L572.5,668.2L573.3,666.5L574.2,665.0L575.5,663.1L577.0,661.6L578.5,660.4L580.3,659.0L581.7,657.5L583.0,655.8L584.4,653.0L585.0,651.5L586.0,648.8L586.6,647.0L587.5,644.0L588.0,642.5L589.0,640.0L589.8,638.0L590.5,635.7L590.8,633.5L590.5,630.5L590.2,629.0L589.8,626.0L590.3,623.0L590.9,621.5L591.6,618.5L591.4,615.5L591.3,612.5L592.0,609.5L592.6,608.0L593.5,605.0L593.7,603.5L593.5,601.2L592.7,599.0L591.8,597.5L590.5,595.5L589.4,593.0L589.0,590.2L589.0,588.5L589.2,587.0L590.0,584.0L590.5,582.3L590.8,579.5L590.5,576.8L590.0,575.0L589.0,573.0L587.5,570.9L586.3,569.0L585.7,567.5L585.4,564.5L586.0,562.3L587.0,560.0L587.6,558.5L588.6,555.5L589.2,554.0L589.9,551.0L589.6,548.0L588.9,546.5L587.5,544.4L586.0,542.4L584.5,540.9L583.0,539.8L581.5,539.0L579.2,537.5L577.5,536.0L576.3,534.5L575.2,533.0L574.0,531.2L572.5,528.5L572.1,527.0L572.1,524.0L572.5,521.0L572.7,519.5L573.1,516.5L573.6,513.5L574.0,511.7L575.1,509.0L576.0,507.5L577.2,506.0L578.6,504.5L580.1,503.0L581.5,501.5L583.1,500.0L586.0,498.9L587.7,498.5L590.4,497.0 M636.8,767.0L638.5,766.7L641.5,766.8L643.0,767.1L646.0,768.2L647.5,769.1L649.0,770.1L651.0,771.5L653.0,773.0L655.0,774.5L656.5,775.5L658.0,776.4L660.3,777.5L662.5,778.3L664.0,779.0L665.7,780.5L667.0,782.3L668.5,784.2L670.0,785.6L671.7,786.5L674.3,788.0L676.0,789.5L677.5,791.0L679.0,792.5L680.5,793.9L682.0,795.3L683.5,796.9L684.8,798.5L685.9,800.0L687.1,801.5L688.2,803.0L689.5,806.0L689.8,807.5L689.9,810.5L689.7,813.5L689.6,816.5L689.3,818.0L688.0,820.9L687.0,822.5L686.3,824.0L685.5,827.0L685.0,828.8L683.9,831.5L682.9,833.0L681.8,834.5L680.5,836.2L679.0,837.9L677.5,839.3L675.8,840.5L673.0,841.8L671.5,842.3L668.9,843.5L667.0,844.6L665.5,845.5L663.0,846.5L661.0,847.2L658.0,847.3L656.2,846.5L653.5,845.7L650.5,845.6L647.5,845.1L646.0,844.2L644.5,842.9L643.0,841.4L641.5,839.8L640.0,837.8L639.0,836.0L638.1,834.5L637.0,832.9L635.5,831.0L634.0,828.5L633.7,827.0L633.8,824.0L633.6,821.0L632.5,818.5L631.0,816.7L630.0,815.0L629.5,812.0L629.8,809.0L630.4,806.0L630.7,803.0L630.9,800.0L630.5,797.0L629.7,794.0L629.2,792.5L628.0,789.7L627.1,788.0L626.2,786.5L625.0,783.9L624.7,782.0L625.0,779.9L625.6,777.5L626.5,775.3L627.9,773.0L629.2,771.5L630.8,770.0L632.5,768.8L634.0,768.0L636.8,767.0 M586.5,506.0L588.3,506.0L590.5,506.7L592.0,507.8L593.5,509.2L595.0,511.3L595.8,513.5L596.5,516.0L596.9,518.0L597.2,521.0L597.0,524.0L596.7,527.0L596.4,528.5L595.2,531.5L594.0,533.0L592.7,534.5L591.2,536.0L589.0,537.1L586.0,537.0L583.0,536.6L581.2,536.0L578.8,534.5L577.4,533.0L576.2,531.5L575.1,530.0L574.0,527.7L573.7,525.5L574.0,522.9L574.5,521.0L575.5,518.1L576.1,516.5L577.0,514.2L578.2,512.0L579.3,510.5L580.7,509.0L582.8,507.5L584.5,506.6L586.5,506.0 M598.6,548.0L601.0,547.8L602.5,548.2L604.6,549.5L606.1,551.0L607.8,552.5L610.0,553.8L611.5,554.7L613.0,555.8L614.5,557.3L616.0,559.0L617.5,560.6L619.0,561.9L620.9,563.0L623.5,564.4L625.0,564.8L628.0,564.9L631.0,565.3L632.8,566.0L634.4,567.5L635.5,569.5L637.0,571.8L638.5,572.7L641.5,573.0L644.5,572.8L647.5,572.8L650.1,573.5L652.0,574.0L655.0,574.3L658.0,574.6L659.5,575.1L661.6,576.5L663.4,578.0L665.5,579.5L667.0,580.1L670.0,580.6L673.0,580.7L676.0,581.0L677.5,581.0L679.0,581.0L682.0,580.4L684.1,579.5L686.0,578.0L687.8,576.5L689.5,575.6L692.5,575.5L695.5,576.3L697.0,576.8L700.0,577.7L701.5,578.1L704.5,579.2L706.0,580.0L707.8,581.0L709.7,582.5L711.5,584.0L713.5,585.4L715.0,586.1L717.9,587.0L719.5,587.5L722.5,587.5L724.2,587.0L726.7,585.5L728.5,584.2L730.0,583.4L733.0,582.7L734.5,582.5L737.5,582.0L740.5,582.0L743.5,582.2L746.5,582.1L749.5,581.8L752.5,581.9L755.5,582.1L758.5,582.1L761.5,582.2L764.5,581.9L767.5,581.4L770.5,581.5L773.5,581.8L776.5,582.3L778.0,582.9L779.7,584.0L781.3,585.5L782.6,587.0L784.0,588.9L785.5,591.0L787.0,592.5L788.5,593.7L790.0,594.7L791.6,596.0L793.0,598.5L793.3,600.5L793.6,603.5L794.5,606.1L795.8,608.0L796.6,609.5L796.6,612.5L796.5,615.5L796.1,618.5L795.9,620.0L794.9,623.0L794.0,624.5L793.0,626.4L792.3,629.0L791.6,632.0L790.8,633.5L789.2,635.0L787.0,636.4L785.5,637.0L782.9,638.0L781.0,639.2L779.5,640.5L778.0,642.0L776.5,643.7L775.0,645.4L774.2,647.0L773.5,648.6L772.7,651.5L772.4,654.5L772.0,657.5L771.6,659.0L770.5,661.5L769.5,663.5L768.8,665.0L767.5,667.5L766.7,669.5L766.0,671.6L765.1,674.0L764.4,675.5L763.0,677.7L761.7,680.0L761.2,681.5L760.7,684.5L760.2,687.5L759.5,689.0L757.4,690.5L755.5,691.5L754.0,692.1L751.0,693.1L748.4,693.5L746.5,694.7L745.0,696.1L743.5,697.7L742.0,699.2L740.7,701.0L739.9,702.5L739.0,704.0L737.5,706.3L736.0,708.3L734.6,710.0L733.6,711.5L733.0,713.4L731.5,715.0L728.5,715.9L725.5,715.4L722.5,715.7L721.0,716.1L718.0,717.5L716.8,719.0L715.1,720.5L713.5,721.1L710.5,721.0L708.7,720.5L706.0,719.3L704.5,718.5L701.5,717.8L698.5,718.8L697.0,719.7L695.5,720.5L692.9,722.0L691.3,723.5L690.3,725.0L689.4,726.5L687.8,728.0L685.0,728.6L683.1,728.0L680.7,726.5L679.1,725.0L678.2,723.5L677.5,721.3L676.7,719.0L675.8,717.5L674.5,715.3L673.6,713.0L673.0,710.9L672.1,708.5L671.2,707.0L670.0,705.4L668.5,703.8L667.0,702.3L665.4,701.0L662.5,699.6L661.0,699.1L658.0,698.3L656.5,697.9L653.6,696.5L652.0,695.8L649.0,696.0L648.0,698.0L647.8,701.0L647.5,702.6L646.0,704.7L643.0,704.6L641.5,703.5L639.9,702.5L637.0,701.2L635.5,700.9L633.7,701.0L631.0,701.8L629.5,702.5L626.8,704.0L625.0,705.0L623.5,705.7L620.5,706.9L619.0,707.3L616.0,707.6L613.0,707.4L610.9,707.0L608.5,706.3L605.5,705.9L602.5,706.8L601.0,707.4L598.0,707.5L596.5,706.9L593.5,706.1L590.5,706.2L587.5,707.0L586.0,707.6L583.1,708.5L583.0,708.5L581.3,707.0L580.4,704.0L580.0,702.5L578.5,699.8L577.7,698.0L577.0,695.0L577.3,692.0L577.0,689.6L575.5,687.8L574.0,686.6L572.5,684.6L572.0,683.0L572.2,680.0L572.5,678.2L573.3,675.5L574.0,673.5L575.3,671.0L576.3,669.5L577.3,668.0L578.5,666.3L580.0,664.3L581.5,662.6L583.0,661.0L584.5,659.2L585.8,657.5L586.9,656.0L588.1,654.5L589.4,653.0L590.6,651.5L592.0,649.0L592.0,647.0L591.6,645.5L591.4,642.5L592.0,639.8L592.7,638.0L593.5,635.6L593.9,633.5L593.6,630.5L593.5,629.0L593.4,626.0L593.8,624.5L594.6,621.5L594.7,618.5L594.4,615.5L594.3,612.5L595.0,609.8L595.8,608.0L596.5,605.9L597.0,603.5L597.0,600.5L596.5,598.5L595.4,596.0L594.5,594.5L593.5,592.2L593.3,590.0L593.7,588.5L595.0,586.6L596.5,584.8L597.7,582.5L598.2,581.0L598.4,578.0L598.0,576.5L596.5,574.1L595.0,572.2L593.8,570.5L593.0,569.0L592.4,566.0L592.6,563.0L592.7,560.0L593.0,557.0L593.5,555.3L594.8,552.5L595.5,551.0L596.5,549.4L598.6,548.0 M552.6,713.0L554.5,712.7L556.0,713.0L559.0,714.3L560.5,715.2L562.0,716.0L564.5,717.5L566.5,719.0L567.7,720.5L568.1,722.0L567.9,723.5L566.8,726.5L566.5,728.0L566.5,729.7L567.2,732.5L568.0,734.5L568.6,737.0L567.8,738.5L566.2,740.0L563.5,741.2L560.5,741.1L558.5,740.0L557.1,738.5L554.5,737.3L553.0,736.8L551.0,735.5L550.0,734.0L548.6,731.0L547.8,729.5L547.0,727.9L546.0,725.0L545.5,722.0L546.1,719.0L547.0,717.5L548.5,716.0L550.2,714.5L552.6,713.0 M572.6,738.5L575.5,737.6L577.1,738.5L577.7,741.5L575.5,742.8L573.3,741.5L572.2,740.0L572.6,738.5 M543.2,743.0L545.5,742.3L548.5,741.9L550.0,743.4L551.5,744.8L553.4,746.0L553.0,748.5L551.5,749.3L548.6,750.5L548.1,752.0L548.5,754.0L549.6,756.5L550.7,758.0L551.8,759.5L553.0,761.7L553.8,764.0L554.4,767.0L554.9,768.5L555.9,771.5L555.8,774.5L554.9,777.5L554.5,779.0L553.4,782.0L552.6,783.5L551.5,785.1L550.0,787.2L548.6,789.5L547.9,791.0L547.0,793.1L545.9,795.5L545.0,797.0L543.5,798.5L541.7,800.0L540.6,801.5L539.8,804.5L539.5,806.8L539.4,809.0L539.3,812.0L538.3,815.0L537.4,816.5L536.5,818.0L535.0,819.7L533.2,821.0L531.4,822.5L530.5,824.0L529.8,827.0L529.5,830.0L529.0,832.7L528.5,834.5L527.5,837.4L527.0,839.0L526.0,841.4L524.5,843.5L523.0,844.8L521.5,845.8L520.0,847.4L518.5,848.1L515.5,848.7L512.5,849.4L511.0,849.5L508.0,849.6L505.0,849.7L502.0,849.8L499.0,849.9L496.0,849.9L493.0,849.9L490.0,849.9L487.0,849.9L484.0,849.9L481.0,849.8L478.0,849.8L475.0,849.8L472.0,849.8L469.0,849.7L466.0,849.6L463.0,849.6L460.0,849.5L458.5,849.3L455.5,848.6L452.5,848.1L452.2,846.5L452.7,845.0L454.0,842.2L454.6,840.5L455.0,837.5L455.5,834.5L456.0,833.0L457.0,831.2L458.5,828.8L459.6,827.0L460.8,825.5L462.2,824.0L463.6,822.5L465.0,821.0L466.4,819.5L467.7,818.0L469.0,815.2L469.3,813.5L469.0,810.8L468.6,809.0L468.1,806.0L469.0,803.0L470.3,801.5L471.8,800.0L472.8,798.5L473.5,797.0L475.0,794.5L476.5,792.8L478.0,791.2L479.2,789.5L480.0,788.0L481.0,785.9L481.9,783.5L482.5,781.5L483.3,779.0L484.0,777.3L485.5,774.7L486.5,773.0L487.1,771.5L488.2,768.5L489.4,767.0L491.5,765.6L493.0,765.1L496.0,764.5L498.5,764.0L500.5,763.3L502.0,762.5L503.8,761.0L505.6,759.5L508.0,758.1L509.5,757.5L512.5,756.8L514.0,756.4L517.0,755.4L518.5,754.7L520.7,753.5L522.7,752.0L524.5,750.5L526.0,749.3L527.5,748.2L529.0,747.5L532.0,746.6L533.5,746.0L536.5,744.5L538.0,743.8L541.0,743.2L543.2,743.0 M640.5,773.0L643.0,772.5L644.5,773.0L646.4,774.5L648.3,776.0L650.2,777.5L651.9,779.0L653.5,780.4L655.0,781.7L656.5,782.8L658.0,783.7L660.8,785.0L662.5,785.9L664.0,787.1L665.5,788.4L667.0,789.5L670.0,791.0L671.5,791.7L673.0,792.7L674.5,794.3L676.0,796.8L676.8,798.5L677.9,800.0L680.5,801.2L682.0,801.9L683.5,803.1L685.0,805.7L685.4,807.5L685.2,810.5L684.8,812.0L684.1,815.0L683.5,816.9L682.5,819.5L682.0,821.0L681.6,824.0L681.2,827.0L680.5,829.3L679.2,831.5L678.0,833.0L676.7,834.5L674.9,836.0L673.0,837.0L671.5,837.6L668.5,838.8L667.0,839.6L665.3,840.5L662.5,841.4L659.5,841.1L657.1,840.5L655.0,840.1L652.0,839.7L649.0,839.3L647.5,838.8L645.9,837.5L644.5,835.7L643.0,833.5L641.5,831.7L640.1,830.0L639.2,828.5L638.5,826.6L638.1,824.0L638.0,821.0L638.0,818.0L637.3,815.0L636.8,813.5L636.5,810.5L637.0,807.5L637.0,806.0L636.8,804.5L636.4,801.5L635.6,798.5L635.2,797.0L634.0,794.0L633.4,792.5L632.9,789.5L633.5,786.5L633.6,783.5L632.5,781.9L630.8,780.5L630.7,777.5L632.5,776.1L634.0,775.7L637.0,774.8L638.5,774.1L640.5,773.0 M581.5,515.0L583.0,514.6L586.0,514.8L587.5,515.0L590.5,515.4L592.4,516.5L593.5,518.1L594.0,521.0L593.7,524.0L593.3,525.5L592.0,527.9L590.5,529.6L589.0,530.9L587.5,532.0L585.5,533.0L583.0,533.5L580.6,533.0L578.5,531.6L577.1,530.0L576.1,528.5L575.5,526.6L575.5,524.8L576.0,522.5L577.0,520.1L578.3,518.0L579.5,516.5L581.5,515.0 M606.6,560.0L608.5,559.1L611.5,559.6L613.0,560.9L614.5,562.9L615.5,564.5L616.4,566.0L617.5,567.7L619.0,569.2L621.5,570.5L623.5,571.1L626.5,571.6L628.6,572.0L631.0,573.3L632.5,574.8L634.0,575.9L635.6,576.5L638.5,576.8L641.5,576.7L644.5,576.5L647.5,576.7L650.5,577.0L653.5,577.3L656.5,577.7L658.0,578.2L660.1,579.5L662.2,581.0L664.0,582.2L665.5,583.2L667.0,584.0L670.0,585.3L671.5,585.7L674.5,585.7L676.3,585.5L679.0,585.0L682.0,584.8L685.0,584.7L688.0,584.1L689.5,583.0L691.0,581.1L692.5,580.0L695.5,580.0L698.5,580.7L700.0,581.3L702.1,582.5L704.0,584.0L705.7,585.5L707.5,587.0L709.0,588.2L710.5,588.9L713.5,589.7L715.4,590.0L718.0,590.6L721.0,590.8L723.4,590.0L725.5,588.9L727.0,588.0L728.6,587.0L731.5,585.6L733.0,585.3L736.0,584.7L739.0,584.4L742.0,584.5L745.0,584.6L748.0,584.4L751.0,584.4L754.0,584.9L757.0,585.3L758.6,585.5L761.5,585.9L764.5,586.1L767.5,585.9L770.5,585.8L773.5,586.0L776.5,587.0L778.0,587.9L779.5,589.3L781.0,591.2L782.2,593.0L783.3,594.5L784.6,596.0L786.2,597.5L787.5,599.0L788.5,601.3L789.0,603.5L789.4,606.5L789.3,609.5L789.5,612.5L790.0,614.9L790.8,617.0L790.8,620.0L789.6,621.5L788.1,623.0L786.9,624.5L785.5,627.4L784.8,629.0L784.0,630.8L782.5,632.5L781.0,633.6L779.0,635.0L776.6,636.5L775.0,637.6L773.5,638.9L772.4,641.0L772.0,642.7L771.6,645.5L771.0,648.5L770.5,650.4L769.6,653.0L769.0,655.1L768.2,657.5L767.5,659.0L766.0,661.2L764.5,663.1L763.0,665.0L762.4,666.5L761.7,669.5L761.4,671.0L760.3,674.0L759.5,675.5L758.5,678.2L758.1,680.0L757.6,683.0L757.0,685.3L755.5,687.4L754.0,688.1L751.0,688.5L748.0,688.5L746.4,689.0L744.8,690.5L743.5,692.8L742.3,695.0L741.3,696.5L740.3,698.0L739.0,700.0L737.6,702.5L736.6,704.0L735.3,705.5L733.0,706.9L731.5,707.3L728.5,708.0L726.9,708.5L724.0,709.4L721.0,710.0L719.5,710.2L716.5,710.5L713.5,711.3L712.0,712.0L709.6,713.0L707.5,713.2L706.0,712.9L703.0,712.2L700.0,712.6L698.5,713.2L695.5,714.3L692.5,714.4L689.5,714.5L688.0,714.8L685.0,715.6L682.0,714.9L680.5,713.1L680.1,711.5L679.0,708.5L677.9,707.0L676.4,705.5L675.1,704.0L674.0,702.5L673.0,701.0L671.5,698.9L670.0,697.2L668.5,695.7L667.0,694.6L664.2,693.5L662.5,693.0L659.9,692.0L658.0,691.4L655.0,690.7L653.5,690.4L650.5,690.1L647.6,690.5L646.0,690.9L643.0,691.9L641.5,692.6L638.5,693.3L637.0,693.5L634.0,694.3L632.1,695.0L629.8,696.5L628.1,698.0L626.5,699.5L625.0,700.6L623.5,701.4L620.5,702.1L617.5,702.5L616.0,702.7L613.0,703.0L610.0,702.6L608.5,702.2L605.5,701.6L602.5,701.7L599.5,702.1L596.5,702.1L593.5,702.1L590.5,702.1L587.5,702.1L584.5,701.3L583.2,699.5L582.6,698.0L582.0,695.0L582.4,692.0L582.2,689.0L581.5,687.4L580.0,685.6L578.5,684.5L576.5,683.0L575.5,681.5L575.4,678.5L575.9,677.0L577.0,674.8L578.5,673.1L580.0,671.3L581.2,669.5L582.1,668.0L583.0,666.5L584.5,664.4L586.0,662.4L587.3,660.5L588.4,659.0L589.6,657.5L591.3,656.0L593.2,654.5L594.8,653.0L596.1,651.5L596.8,650.0L597.0,647.0L596.5,645.2L595.7,642.5L596.5,639.5L597.5,638.0L598.1,636.5L598.0,634.8L597.3,632.0L597.1,629.0L597.8,626.0L598.1,624.5L598.3,621.5L598.1,618.5L597.9,617.0L597.8,614.0L598.0,612.5L598.9,609.5L599.5,607.5L600.1,605.0L600.5,602.0L600.3,599.0L599.5,596.4L598.7,594.5L598.0,592.0L598.0,590.9L598.8,588.5L599.6,587.0L601.0,584.2L601.7,582.5L602.5,580.4L603.3,578.0L603.2,575.0L602.5,573.4L601.0,570.5L600.5,569.0L599.8,566.0L599.8,563.0L602.5,561.9L604.2,561.5L606.6,560.0 M551.7,716.0L554.5,715.4L556.3,716.0L558.2,717.5L559.1,719.0L559.0,720.8L557.5,723.5L556.6,725.0L555.5,726.5L553.2,728.0L552.9,728.0L550.2,726.5L549.1,725.0L548.4,723.5L548.0,720.5L548.6,719.0L550.0,717.3L551.7,716.0 M536.3,749.0L538.0,748.4L539.8,749.0L541.0,750.8L542.1,753.5L542.8,755.0L544.0,757.1L545.3,759.5L546.1,761.0L546.9,764.0L546.9,767.0L546.8,770.0L547.0,771.8L547.7,774.5L548.2,777.5L547.8,780.5L546.9,782.0L545.5,783.6L544.0,785.5L543.1,788.0L542.6,791.0L542.1,792.5L541.0,794.5L539.5,796.0L538.0,797.1L536.3,798.5L534.8,800.0L533.5,801.6L532.0,803.5L530.5,806.0L530.1,807.5L529.8,810.5L529.5,813.5L529.0,815.0L527.6,818.0L526.9,819.5L526.1,822.5L525.9,824.0L525.3,827.0L524.7,830.0L524.4,831.5L523.6,834.5L523.0,836.0L521.5,838.0L520.0,839.2L517.9,840.5L516.3,842.0L515.2,843.5L514.0,846.0L513.2,848.0L511.0,848.6L508.0,849.3L506.5,849.5L503.5,849.6L500.5,849.7L497.5,849.7L494.5,849.8L491.5,849.8L488.5,849.7L485.5,849.7L482.5,849.7L479.5,849.7L476.5,849.7L473.5,849.6L470.5,849.6L468.6,849.5L466.0,849.1L463.0,848.8L460.0,848.3L458.8,846.5L459.7,843.5L460.2,842.0L461.2,839.0L461.6,837.5L462.7,834.5L463.3,833.0L464.5,830.0L465.9,828.5L467.5,827.4L469.0,826.2L470.5,824.0L471.0,822.5L472.0,820.1L472.9,818.0L473.5,815.0L473.6,813.5L473.5,812.0L472.7,809.0L472.4,806.0L473.5,804.1L475.0,802.3L476.3,800.0L476.8,798.5L478.0,796.2L479.5,794.4L481.0,792.7L482.3,791.0L483.2,789.5L484.1,788.0L485.2,785.0L485.5,783.3L486.2,780.5L487.0,778.8L488.5,776.3L489.5,774.5L490.4,773.0L491.5,771.2L493.0,769.9L496.0,768.9L497.9,768.5L500.5,767.9L503.5,767.1L505.0,766.3L506.5,765.3L508.1,764.0L510.2,762.5L512.5,761.4L514.0,760.7L516.2,759.5L518.5,758.1L520.0,757.2L521.5,756.3L523.4,755.0L525.6,753.5L527.5,752.5L529.0,752.0L532.0,751.2L533.8,750.5L536.3,749.0 M640.5,782.0L643.0,780.6L646.0,781.7L647.5,783.1L649.0,785.0L650.3,786.5L652.0,787.9L653.5,788.9L655.0,790.8L655.2,792.5L655.3,795.5L655.2,798.5L655.7,801.5L656.5,803.0L658.0,804.7L661.0,805.5L664.0,804.8L665.5,804.2L668.5,803.7L670.8,804.5L673.0,805.8L674.5,806.6L677.5,807.4L678.8,809.0L678.6,812.0L677.7,815.0L677.3,816.5L676.8,819.5L676.3,822.5L676.0,824.6L675.4,827.0L674.5,828.6L673.0,830.6L671.5,831.8L669.3,833.0L667.0,834.1L665.5,834.8L662.5,835.5L659.5,834.9L658.0,834.4L655.0,833.1L653.5,832.2L652.0,831.4L649.9,830.0L647.5,828.6L646.0,827.7L644.5,826.5L643.2,824.0L643.0,821.0L643.0,819.5L642.6,816.5L642.1,813.5L642.0,810.5L642.1,807.5L642.4,804.5L643.0,802.1L644.5,800.0L644.7,798.5L643.9,797.0L642.6,795.5L641.5,794.0L640.0,791.6L639.1,789.5L639.0,786.5L639.7,783.5L640.5,782.0 M581.3,519.5L583.0,519.2L585.1,519.5L587.5,520.5L589.0,522.1L589.3,524.0L589.0,525.6L587.5,528.2L586.0,529.5L584.5,530.3L581.5,530.7L579.8,530.0L578.2,528.5L577.3,525.5L578.1,522.5L579.1,521.0L581.3,519.5 M607.1,569.0L610.0,567.6L611.5,569.3L612.0,572.0L613.0,574.3L614.5,575.4L617.2,576.5L619.0,576.9L622.0,577.7L623.5,578.4L625.3,579.5L627.3,581.0L629.5,582.5L631.0,583.0L634.0,582.6L635.5,582.1L638.5,581.2L640.5,581.0L643.0,580.8L646.0,580.7L649.0,580.9L650.5,581.0L653.5,581.2L656.5,582.0L658.0,582.8L660.1,584.0L662.5,585.5L664.0,586.9L665.5,588.5L666.8,590.0L668.5,591.1L670.0,591.5L671.5,591.4L674.5,590.4L676.0,589.8L679.0,589.1L682.0,588.7L685.0,588.9L688.0,589.6L689.5,590.1L692.5,590.8L695.5,590.9L697.5,591.5L700.0,592.4L703.0,592.7L706.0,592.5L709.0,592.8L710.9,593.0L713.5,593.3L716.5,593.8L719.5,594.4L722.5,593.8L724.0,592.9L725.7,591.5L727.8,590.0L730.0,588.7L731.5,588.0L734.5,587.2L736.0,586.9L739.0,586.6L742.0,586.6L745.0,586.8L748.0,586.7L751.0,586.8L752.5,587.1L755.5,587.8L758.5,588.5L760.0,588.7L763.0,589.1L766.0,589.4L769.0,589.5L772.0,589.6L773.7,590.0L776.5,591.5L778.0,592.9L779.3,594.5L780.3,596.0L781.4,597.5L782.5,599.0L784.0,600.9L785.4,603.5L785.7,605.0L786.0,608.0L785.8,611.0L785.6,614.0L785.5,615.5L785.1,618.5L784.0,620.7L782.7,623.0L781.8,624.5L780.9,626.0L779.5,628.4L778.0,630.5L776.8,632.0L775.1,633.5L773.5,634.6L772.0,635.8L770.5,637.5L769.7,639.5L769.0,642.3L768.8,644.0L768.6,647.0L768.0,650.0L767.3,651.5L766.4,654.5L765.9,656.0L764.5,658.7L763.4,660.5L762.3,662.0L761.2,663.5L760.0,665.8L759.2,668.0L758.5,670.3L757.7,672.5L757.0,674.2L756.1,677.0L755.5,678.9L754.5,681.5L753.8,683.0L751.7,684.5L749.5,684.9L746.5,685.7L745.0,686.4L743.5,687.6L742.0,690.1L741.2,692.0L740.5,693.5L739.0,696.3L737.9,698.0L737.0,699.5L736.0,701.1L734.5,702.6L731.5,703.4L728.5,703.8L725.6,704.0L724.0,704.1L721.0,704.5L718.0,705.5L716.5,706.0L713.5,706.8L712.0,707.1L709.0,707.5L706.4,707.0L704.5,706.3L701.5,705.8L698.5,706.8L697.0,707.7L694.9,708.5L692.5,708.7L691.0,708.5L688.3,707.0L687.1,705.5L686.1,704.0L685.0,702.3L683.7,699.5L683.5,698.0L683.1,695.0L682.0,693.4L680.2,692.0L677.8,690.5L676.0,689.5L674.5,688.6L672.3,687.5L670.0,686.2L668.5,685.2L667.0,684.1L664.7,683.0L662.5,683.0L661.0,683.3L658.0,684.0L655.0,684.3L652.0,684.4L650.5,684.7L647.5,685.6L646.0,686.1L643.0,687.1L641.2,687.5L638.5,688.0L635.5,688.4L633.4,689.0L631.0,690.1L629.5,691.1L628.0,692.2L626.1,693.5L624.1,695.0L622.0,696.5L620.5,697.1L617.5,697.6L614.5,697.7L611.5,697.8L608.5,697.7L605.5,697.5L602.5,697.7L599.5,697.9L596.5,697.6L593.5,697.2L590.5,697.1L587.5,696.9L586.1,695.0L586.0,693.5L585.8,690.5L585.2,687.5L584.5,685.8L583.0,683.0L582.2,681.5L581.6,678.5L582.1,675.5L583.0,672.7L583.7,671.0L584.5,669.4L586.0,667.4L587.5,665.9L589.0,664.1L590.3,662.0L591.3,660.5L592.7,659.0L594.8,657.5L596.5,656.4L598.0,655.4L599.5,654.1L601.0,651.9L601.6,650.0L601.6,647.0L601.0,644.0L600.9,642.5L601.2,641.0L602.0,638.0L601.8,635.0L601.0,632.8L600.3,630.5L600.4,627.5L600.9,624.5L601.1,623.0L601.3,620.0L601.6,617.0L601.6,614.0L602.0,611.0L602.5,608.8L603.0,606.5L603.6,603.5L603.8,600.5L603.5,597.5L603.1,594.5L602.8,591.5L603.0,588.5L603.8,585.5L604.3,584.0L605.5,581.5L606.7,579.5L607.8,578.0L608.8,576.5L609.3,573.5L608.0,572.0L607.0,570.5L607.1,569.0 M529.3,755.0L532.0,754.5L535.0,754.4L536.6,755.0L538.2,756.5L539.5,758.6L540.4,761.0L540.8,764.0L540.8,767.0L540.8,770.0L541.0,772.5L541.3,774.5L541.4,777.5L540.8,779.0L539.5,781.3L538.8,783.5L538.6,786.5L538.5,789.5L538.0,791.2L536.5,793.3L535.0,794.7L533.5,796.0L532.0,797.2L530.2,798.5L528.1,800.0L527.0,801.5L526.0,803.7L525.2,806.0L524.5,808.8L524.2,810.5L523.8,813.5L523.2,816.5L522.7,818.0L521.8,821.0L521.3,822.5L520.4,825.5L519.9,827.0L519.1,830.0L518.5,832.1L517.5,834.5L516.5,836.0L515.4,837.5L514.0,839.3L512.5,841.7L511.5,843.5L510.7,845.0L509.5,847.2L508.0,848.2L505.0,848.9L502.0,849.4L500.5,849.5L497.5,849.6L494.5,849.6L491.5,849.6L488.5,849.6L485.5,849.6L482.5,849.5L479.5,849.5L476.5,849.5L474.4,849.5L472.0,849.2L469.0,848.6L466.0,848.0L464.5,846.5L464.0,845.0L464.4,842.0L465.1,840.5L466.0,838.9L467.5,836.9L469.0,835.3L470.5,833.8L472.0,832.3L473.5,831.2L475.8,830.0L477.6,828.5L478.6,827.0L479.5,825.4L480.5,822.5L480.0,819.5L479.5,817.8L479.3,815.0L479.5,812.0L478.8,809.0L478.2,806.0L478.7,803.0L479.5,800.8L480.5,798.5L481.6,797.0L483.2,795.5L484.7,794.0L486.1,792.5L487.2,791.0L488.5,788.0L488.8,786.5L489.2,783.5L490.0,780.9L491.0,779.0L491.9,777.5L493.0,775.8L494.5,773.9L496.0,772.8L499.0,771.7L500.5,771.3L503.5,770.6L505.4,770.0L508.0,768.9L509.5,768.2L511.7,767.0L514.0,765.7L515.5,764.7L517.0,763.6L518.5,762.2L520.0,760.8L521.6,759.5L524.0,758.0L526.0,756.6L527.5,755.7L529.3,755.0 M649.7,813.5L652.0,812.6L655.0,813.4L656.5,813.9L659.0,815.0L661.0,816.0L662.5,816.9L664.0,818.1L665.5,820.0L667.0,822.0L668.5,823.5L669.4,825.5L668.5,827.1L665.5,827.5L662.5,827.0L661.0,826.7L658.0,825.6L656.5,824.6L655.0,823.4L653.5,822.3L651.7,821.0L650.5,819.5L649.3,816.5L649.7,813.5 M580.6,524.0L583.0,523.3L584.5,524.7L584.5,526.0L583.0,527.4L580.4,527.0L579.9,525.5L580.6,524.0 M611.4,582.5L613.0,582.5L614.5,582.8L617.5,583.6L619.0,584.1L622.0,584.7L625.0,585.5L626.5,586.0L629.0,587.0L631.0,587.5L634.0,587.4L637.0,587.3L640.0,587.4L643.0,587.3L646.0,587.2L649.0,587.8L651.1,588.5L653.5,589.5L655.0,590.2L656.5,591.7L657.4,594.5L658.1,596.0L659.5,598.3L660.7,600.5L661.4,602.0L662.5,604.1L664.0,605.9L665.5,606.6L667.1,606.5L669.6,605.0L670.7,603.5L671.0,600.5L671.5,598.6L673.0,597.5L676.0,596.6L677.5,595.9L679.7,594.5L682.0,593.7L685.0,593.8L687.5,594.5L689.5,595.2L692.5,596.0L694.0,596.3L697.0,596.9L700.0,597.0L703.0,596.5L706.0,596.1L709.0,596.2L712.0,596.3L715.0,596.6L718.0,597.1L721.0,597.2L724.0,596.1L725.5,595.0L727.0,593.6L728.5,592.4L730.0,591.5L733.0,590.0L734.5,589.6L737.5,589.1L740.5,588.8L743.5,588.9L746.5,589.0L749.5,588.9L752.5,589.3L755.1,590.0L757.0,590.5L760.0,591.1L763.0,591.5L764.5,591.7L767.5,591.9L770.5,592.0L773.5,592.8L775.0,593.6L776.5,594.9L778.0,596.6L779.5,598.6L780.8,600.5L781.8,602.0L782.5,603.7L783.1,606.5L783.2,609.5L783.0,612.5L782.7,615.5L782.4,617.0L781.0,619.8L779.8,621.5L778.8,623.0L777.8,624.5L776.5,626.3L775.0,628.3L773.5,630.4L772.0,631.9L770.5,633.3L769.0,635.0L768.2,636.5L767.5,638.6L766.9,641.0L766.2,644.0L765.9,645.5L765.5,648.5L764.9,651.5L764.4,653.0L763.4,656.0L762.6,657.5L761.5,659.5L760.0,661.7L758.8,663.5L758.0,665.0L757.0,667.4L756.2,669.5L755.5,671.4L754.3,674.0L753.5,675.5L752.3,677.0L750.1,678.5L748.7,680.0L747.6,681.5L746.1,683.0L743.8,684.5L742.0,685.9L740.8,687.5L740.0,689.0L739.0,691.5L738.0,693.5L737.2,695.0L736.0,696.9L734.5,698.5L731.5,699.5L730.0,699.6L727.0,699.5L724.0,699.6L721.0,699.9L718.0,700.9L716.5,701.4L713.5,702.0L710.5,702.2L707.5,702.1L704.5,701.7L701.5,701.4L698.5,701.1L697.0,700.9L694.6,699.5L693.3,698.0L692.3,696.5L691.0,694.7L689.5,692.6L688.0,690.8L686.5,689.4L685.0,688.2L683.5,687.2L681.0,686.0L679.0,685.0L677.5,684.0L676.0,682.6L674.5,681.2L673.0,679.9L671.4,678.5L669.5,677.0L667.0,675.7L664.0,676.1L662.4,677.0L659.5,678.4L658.0,678.8L655.0,678.9L652.0,678.6L649.0,679.4L647.5,680.1L644.5,681.5L643.0,682.0L640.0,682.8L637.0,682.5L634.0,682.3L632.0,683.0L629.5,684.4L628.0,685.7L626.5,687.3L625.0,688.6L623.5,689.6L622.0,690.6L619.9,692.0L617.5,693.1L615.6,693.5L613.0,693.8L610.0,693.9L607.0,693.8L604.0,693.9L601.0,693.8L599.5,693.4L596.9,692.0L595.0,691.5L592.0,691.3L589.8,690.5L588.7,689.0L587.7,686.0L587.2,684.5L586.5,681.5L586.2,678.5L586.2,675.5L586.6,672.5L587.5,670.8L589.0,669.5L591.1,668.0L592.5,666.5L593.8,665.0L595.3,663.5L597.8,662.0L599.5,661.2L601.0,660.3L602.5,658.8L604.0,656.7L605.2,654.5L605.9,653.0L606.9,650.0L607.1,648.5L607.0,647.0L605.8,644.0L605.2,642.5L604.8,639.5L605.0,636.5L604.5,633.5L604.0,631.9L603.4,629.0L603.5,626.0L603.7,623.0L604.0,620.8L604.4,618.5L604.5,615.5L604.6,612.5L605.2,609.5L605.6,608.0L606.3,605.0L606.6,602.0L606.6,599.0L606.9,596.0L607.1,594.5L607.6,591.5L607.9,588.5L608.5,585.8L609.4,584.0L611.4,582.5 M531.4,758.0L532.1,758.0L534.6,759.5L535.5,761.0L535.8,764.0L535.2,767.0L535.0,768.5L535.0,771.1L535.3,773.0L535.6,776.0L535.2,779.0L534.9,780.5L534.4,783.5L533.9,786.5L533.5,788.0L532.0,790.5L530.5,792.1L529.0,793.2L527.5,794.0L524.8,795.5L523.0,796.9L521.6,798.5L520.7,800.0L520.0,802.4L519.4,804.5L518.5,807.2L518.3,809.0L518.5,810.9L518.9,813.5L518.8,816.5L518.4,818.0L517.0,820.8L515.9,822.5L515.1,824.0L514.0,826.8L513.6,828.5L513.1,831.5L512.5,834.4L511.9,836.0L511.0,837.7L509.5,840.0L508.1,842.0L507.2,843.5L506.3,845.0L505.0,847.0L503.5,848.2L500.5,848.6L497.5,849.1L494.5,849.3L491.5,849.3L488.5,849.2L485.5,849.0L482.5,848.7L479.5,848.5L476.5,848.6L473.5,848.4L471.1,848.0L470.3,846.5L469.6,843.5L470.5,841.8L472.1,840.5L475.0,839.2L478.0,839.2L481.0,839.8L482.9,839.0L484.1,837.5L484.8,834.5L484.5,831.5L484.1,828.5L484.7,825.5L485.5,823.4L486.2,821.0L486.1,818.0L485.5,816.0L484.6,813.5L484.0,811.9L482.8,809.0L482.2,807.5L481.9,804.5L482.5,802.3L483.8,800.0L485.3,798.5L487.0,797.2L488.5,795.8L489.6,794.0L490.2,792.5L491.3,789.5L491.8,788.0L493.0,785.4L494.3,783.5L495.7,782.0L497.3,780.5L499.0,779.4L500.5,778.9L502.3,777.5L503.8,776.0L505.6,774.5L508.0,773.3L509.5,772.8L512.5,771.7L514.0,770.8L515.5,769.7L517.0,768.3L518.5,766.9L520.0,765.3L521.5,763.8L523.0,762.5L525.2,761.0L527.4,759.5L529.0,758.6L531.4,758.0 M613.9,588.5L616.0,587.8L619.0,587.9L622.0,588.4L623.5,588.7L626.5,589.6L628.0,590.3L630.6,591.5L632.5,592.1L635.5,592.3L638.2,593.0L640.0,594.0L641.5,595.1L643.0,596.3L645.1,597.5L647.5,598.6L649.0,599.4L650.8,600.5L653.0,602.0L655.0,603.5L656.5,604.8L657.9,606.5L659.4,608.0L661.0,609.3L662.5,610.1L665.5,611.0L668.5,610.5L671.5,609.6L673.0,609.3L676.0,608.9L678.1,608.0L679.8,606.5L681.6,605.0L683.5,604.1L685.0,603.5L687.4,602.0L689.5,600.9L692.5,600.8L695.5,601.4L698.5,601.7L701.5,600.9L703.0,600.3L706.0,599.6L709.0,599.4L712.0,599.3L715.0,599.2L718.0,599.4L721.0,599.4L723.7,599.0L725.5,598.1L727.0,596.9L728.5,595.5L730.0,594.5L733.0,593.2L734.5,592.9L737.5,592.2L740.5,591.6L742.0,591.4L745.0,591.3L748.0,591.2L751.0,591.2L752.8,591.5L755.5,592.1L758.5,592.9L760.0,593.2L763.0,593.6L766.0,593.8L769.0,594.0L771.8,594.5L773.5,595.3L775.0,596.3L776.5,597.8L778.0,599.6L779.5,602.0L780.2,603.5L780.9,606.5L781.0,608.3L781.0,609.9L780.7,612.5L780.2,615.5L779.5,617.4L778.0,619.8L776.8,621.5L775.7,623.0L774.4,624.5L773.0,626.0L771.7,627.5L770.5,629.0L769.0,630.8L767.5,632.7L766.2,635.0L765.7,636.5L764.9,639.5L764.4,641.0L763.5,644.0L763.0,645.9L762.5,648.5L762.0,651.5L761.5,653.4L760.7,656.0L760.0,657.6L758.5,660.1L757.2,662.0L756.1,663.5L755.1,665.0L754.0,666.9L752.6,669.5L751.7,671.0L750.0,672.5L748.0,674.0L746.9,675.5L746.2,677.0L745.0,679.9L744.0,681.5L742.3,683.0L740.5,684.5L739.1,686.0L738.1,687.5L737.4,689.0L736.0,691.7L734.8,693.5L733.0,694.9L731.5,695.3L728.5,695.6L725.5,695.8L722.5,695.9L719.5,695.8L716.5,695.4L715.0,694.9L712.0,694.0L709.0,693.8L706.2,695.0L704.5,696.4L703.0,697.1L700.0,696.9L698.5,695.7L697.2,693.5L696.3,692.0L694.9,690.5L693.2,689.0L691.1,687.5L689.5,686.4L688.0,685.4L686.5,684.2L684.9,683.0L683.0,681.5L681.2,680.0L679.3,678.5L677.5,677.5L676.0,676.8L673.6,675.5L671.5,674.0L670.0,672.7L668.5,671.7L667.0,670.9L664.0,670.6L662.4,671.0L659.7,672.5L658.0,673.0L655.0,672.7L653.5,672.4L650.5,672.5L649.0,672.7L646.0,673.0L643.3,672.5L641.5,672.1L638.5,671.5L635.5,671.8L633.7,672.5L631.7,674.0L630.3,675.5L629.2,677.0L627.1,678.5L625.0,679.5L623.5,680.9L622.2,683.0L621.2,684.5L620.0,686.0L618.4,687.5L616.0,688.8L614.5,689.2L611.5,689.7L608.5,689.8L605.5,689.7L602.5,689.2L601.0,688.6L598.0,687.5L596.5,687.4L593.5,687.5L591.2,686.0L590.5,683.3L590.5,682.8L591.0,680.0L592.0,677.6L592.9,675.5L593.5,673.4L594.3,671.0L595.2,669.5L596.5,668.0L598.4,666.5L601.0,665.0L602.5,664.1L604.0,663.2L605.5,661.8L606.9,659.0L607.5,657.5L608.5,655.4L609.8,653.0L610.6,651.5L611.3,648.5L610.7,645.5L610.0,644.0L608.5,641.2L608.0,639.5L608.0,636.5L607.8,633.5L607.7,630.5L607.7,627.5L607.2,624.5L607.1,621.5L607.3,618.5L607.2,615.5L607.4,612.5L608.2,609.5L608.7,608.0L609.2,605.0L609.4,602.0L609.7,599.0L610.1,597.5L611.1,594.5L611.5,592.7L612.5,590.0L613.9,588.5 M520.6,771.5L523.0,770.2L524.6,771.5L525.8,774.5L526.6,776.0L527.5,777.9L528.3,780.5L528.5,783.5L527.5,786.5L526.6,788.0L525.5,789.5L524.1,791.0L522.4,792.5L520.3,794.0L518.5,795.3L517.0,796.4L515.5,797.6L514.0,799.5L513.4,801.5L512.9,804.5L512.5,807.2L512.4,809.0L512.5,811.0L513.0,813.5L513.3,816.5L512.5,818.9L511.3,821.0L510.0,822.5L508.2,824.0L506.5,825.0L505.0,825.8L503.4,827.0L502.4,830.0L503.5,832.9L504.3,834.5L504.4,837.5L503.5,839.5L502.0,841.9L500.9,843.5L500.0,845.0L499.0,846.9L497.5,848.1L494.5,848.5L491.5,848.5L488.5,848.2L486.2,848.0L487.0,846.5L487.8,843.5L488.4,840.5L488.8,839.0L489.4,836.0L489.3,833.0L488.8,830.0L488.7,827.0L489.3,824.0L489.9,821.0L489.8,818.0L489.0,815.0L488.5,813.4L487.4,810.5L486.7,809.0L485.8,806.0L486.3,803.0L487.3,801.5L489.0,800.0L490.8,798.5L492.1,797.0L493.0,794.1L493.3,792.5L494.3,789.5L495.3,788.0L497.2,786.5L499.0,785.6L500.5,785.0L503.3,783.5L505.0,782.0L506.2,780.5L507.4,779.0L508.9,777.5L511.0,776.3L512.5,775.6L515.0,774.5L517.0,773.5L518.5,772.6L520.6,771.5 M618.8,591.5L620.5,591.4L622.5,591.5L625.0,592.2L626.7,593.0L628.9,594.5L630.8,596.0L632.5,597.0L634.2,597.5L637.0,598.7L638.5,599.9L639.9,602.0L640.8,603.5L642.2,605.0L644.5,605.4L647.5,606.1L649.0,606.6L652.0,607.6L653.5,608.1L655.9,609.5L658.0,610.8L659.5,611.7L661.3,612.5L664.0,613.3L667.0,613.5L670.0,613.0L673.0,612.5L674.5,612.4L677.5,611.8L679.7,611.0L682.0,609.6L683.5,608.8L685.6,608.0L688.0,607.1L689.5,606.5L692.5,605.8L695.5,605.8L698.5,605.4L700.0,605.0L703.0,603.8L704.5,603.2L707.5,602.8L710.5,602.7L713.5,602.1L715.0,601.8L718.0,601.5L721.0,601.5L724.0,601.3L726.2,600.5L728.3,599.0L730.0,597.6L731.5,596.8L734.5,596.1L736.0,596.0L739.0,595.5L742.0,594.5L743.5,594.1L746.5,593.6L749.5,593.3L752.5,593.5L755.5,594.1L757.1,594.5L760.0,595.3L763.0,595.6L766.0,595.8L769.0,596.0L770.5,596.2L773.3,597.5L775.0,598.8L776.5,600.4L777.6,602.0L778.3,603.5L779.0,606.5L779.2,609.5L778.8,612.5L778.0,615.3L777.2,617.0L776.3,618.5L775.0,620.5L773.5,622.5L772.0,624.1L770.5,625.7L769.0,627.3L767.6,629.0L766.2,630.5L765.1,632.0L764.3,633.5L763.2,636.5L762.8,638.0L761.8,641.0L761.2,642.5L760.1,645.5L759.7,647.0L759.3,650.0L758.9,653.0L758.5,654.5L757.3,657.5L756.5,659.0L755.4,660.5L754.0,662.0L752.5,663.5L750.8,665.0L749.1,666.5L747.6,668.0L746.3,669.5L745.0,672.1L744.4,674.0L743.5,676.6L742.7,678.5L741.9,680.0L740.5,681.6L738.9,683.0L737.5,684.5L736.0,686.3L734.5,688.1L733.0,689.6L731.5,690.6L728.5,691.5L726.6,692.0L724.0,692.3L721.4,692.0L719.5,691.6L716.5,690.7L715.0,690.3L712.0,689.6L709.2,689.0L707.5,688.7L704.5,688.1L701.5,687.5L700.0,687.2L697.0,686.0L695.5,685.3L694.0,684.4L691.5,683.0L689.5,681.9L688.0,681.1L686.3,680.0L684.5,678.5L682.9,677.0L681.3,675.5L679.3,674.0L677.5,673.0L676.0,672.3L673.8,671.0L671.9,669.5L670.1,668.0L668.5,666.9L667.0,666.1L664.0,665.3L661.0,665.8L659.4,666.5L656.5,667.5L653.5,667.5L650.5,667.2L647.5,666.8L644.5,666.7L641.5,667.0L638.5,667.1L635.5,667.4L632.9,668.0L631.0,668.6L628.3,669.5L626.5,669.8L623.5,670.1L620.5,670.8L619.0,672.1L618.2,674.0L617.6,677.0L617.1,678.5L616.0,680.7L614.5,682.1L612.4,683.0L610.0,683.3L607.4,683.0L605.5,682.5L602.6,681.5L601.0,681.0L598.5,680.0L597.6,678.5L597.2,675.5L597.4,672.5L598.0,671.0L599.5,669.2L601.2,668.0L604.0,666.6L605.5,665.9L607.0,665.0L608.6,663.5L610.0,660.6L610.6,659.0L611.5,657.1L613.0,654.9L614.4,653.0L615.2,651.5L616.0,649.1L616.1,647.0L615.7,645.5L614.5,643.5L613.0,641.0L612.6,639.5L612.7,636.5L613.3,635.0L614.5,632.1L614.9,630.5L614.5,627.8L613.6,626.0L612.6,624.5L611.5,622.2L610.8,620.0L610.2,617.0L610.0,614.0L610.6,611.0L611.5,608.1L611.9,606.5L612.4,603.5L613.0,600.8L613.8,599.0L614.6,597.5L615.7,594.5L616.4,593.0L618.8,591.5 M513.6,779.0L515.5,778.3L518.5,778.2L520.0,779.2L521.0,782.0L521.3,785.0L520.8,788.0L519.8,789.5L517.6,791.0L515.5,791.8L513.5,792.5L511.3,794.0L510.1,795.5L509.4,797.0L508.5,800.0L508.3,803.0L508.0,806.0L507.8,807.5L507.5,810.5L507.2,813.5L506.6,816.5L505.7,818.0L503.7,819.5L502.0,820.3L500.4,821.0L498.3,822.5L496.5,824.0L494.5,824.0L494.1,822.5L493.5,819.5L493.0,817.3L492.5,815.0L492.0,812.0L491.7,809.0L491.9,806.0L493.0,803.6L494.5,802.3L496.0,801.4L497.5,799.6L497.9,797.0L497.5,795.0L497.2,792.5L497.6,791.0L499.0,789.3L501.2,788.0L503.5,787.1L505.0,786.4L507.0,785.0L508.2,783.5L509.5,781.9L511.0,780.4L513.6,779.0 M620.5,596.0L622.0,595.3L625.0,596.0L626.5,596.9L628.0,598.3L629.5,599.9L631.0,601.1L632.5,602.1L634.1,603.5L635.5,605.2L637.0,606.8L638.5,608.1L640.4,609.5L643.0,610.2L646.0,610.4L649.0,610.6L650.7,611.0L653.5,612.0L655.0,612.9L657.7,614.0L659.5,614.6L662.5,615.4L664.0,615.7L667.0,615.8L669.1,615.5L671.5,615.2L674.5,615.0L677.5,614.5L679.5,614.0L682.0,613.2L684.9,612.5L686.5,612.1L689.0,611.0L691.0,610.2L694.0,609.6L695.5,609.4L698.5,608.6L700.7,608.0L703.0,607.2L705.2,606.5L707.5,606.1L710.5,606.0L713.5,605.1L715.0,604.6L718.0,603.8L721.0,603.6L722.6,603.5L725.5,603.2L728.5,602.0L730.0,600.9L731.5,599.9L734.2,599.0L736.0,598.8L739.0,598.6L742.0,597.8L743.5,597.1L746.5,596.0L748.0,595.7L751.0,595.5L754.0,595.6L755.8,596.0L758.5,596.8L761.5,597.3L764.5,597.4L766.1,597.5L769.0,597.7L772.0,598.8L773.5,599.8L775.0,601.2L776.4,603.5L777.0,605.0L777.5,608.0L777.3,611.0L776.5,614.0L775.9,615.5L775.0,617.0L773.5,619.5L772.1,621.5L770.8,623.0L769.3,624.5L767.9,626.0L766.5,627.5L764.9,629.0L763.6,630.5L762.7,632.0L761.5,634.9L761.0,636.5L760.0,639.3L759.4,641.0L758.5,642.9L757.1,645.5L756.6,647.0L756.2,650.0L756.0,653.0L755.5,655.1L754.5,657.5L753.4,659.0L752.0,660.5L750.1,662.0L748.1,663.5L746.5,664.7L745.0,666.0L743.5,667.9L742.9,669.5L742.2,672.5L741.8,674.0L740.5,676.9L739.4,678.5L738.3,680.0L737.0,681.5L735.5,683.0L733.9,684.5L731.6,686.0L730.0,686.4L727.0,686.8L724.8,687.5L722.5,687.9L719.5,687.5L718.0,687.2L715.0,686.8L712.0,686.4L710.0,686.0L707.5,685.4L704.5,684.5L703.0,684.1L700.0,683.0L698.5,682.4L696.7,681.5L694.0,680.1L692.5,679.3L690.9,678.5L688.4,677.0L686.7,675.5L685.5,674.0L684.3,672.5L682.4,671.0L680.5,670.1L679.0,669.5L676.2,668.0L674.5,666.8L673.0,665.7L671.5,664.6L669.9,663.5L667.7,662.0L665.7,660.5L664.0,659.3L662.5,658.8L659.5,658.8L658.0,659.2L655.6,660.5L653.5,661.1L650.7,660.5L649.0,659.4L647.5,658.2L646.0,657.1L643.3,656.0L642.7,656.0L640.0,657.4L638.9,659.0L637.1,660.5L636.4,660.5L634.0,659.5L632.5,658.5L630.0,659.0L629.1,660.5L628.0,662.0L625.4,663.5L623.5,663.9L620.5,663.7L619.0,663.3L616.0,663.2L615.8,660.5L616.5,659.0L617.5,656.8L618.4,654.5L619.2,653.0L620.5,650.1L620.7,648.5L620.5,645.5L620.1,644.0L619.0,641.4L618.0,639.5L617.8,636.5L618.6,633.5L619.0,631.8L619.1,629.0L618.7,627.5L617.5,625.5L616.0,623.3L615.0,621.5L614.4,620.0L613.4,617.0L613.2,614.0L613.6,611.0L614.5,608.2L615.1,606.5L615.9,603.5L616.5,602.0L617.5,600.3L619.0,597.8L620.5,596.0 M609.7,668.0L611.0,668.0L611.1,671.0L610.0,673.1L608.5,674.8L607.0,675.8L604.0,676.4L601.8,675.5L601.0,674.0L601.1,672.5L602.5,670.6L604.5,669.5L607.0,668.7L609.7,668.0 M746.1,599.0L748.0,598.2L751.0,597.7L754.0,597.6L757.0,598.2L760.0,598.8L761.6,599.0L764.5,599.0L767.5,599.2L770.5,599.9L772.0,600.7L773.6,602.0L775.0,604.3L775.7,606.5L776.0,609.5L775.3,612.5L774.7,614.0L773.5,616.2L772.1,618.5L771.1,620.0L770.0,621.5L768.6,623.0L767.2,624.5L765.6,626.0L763.8,627.5L762.2,629.0L761.1,630.5L760.0,633.1L759.3,635.0L758.5,637.3L757.7,639.5L757.0,641.1L755.5,643.5L754.3,645.5L753.7,647.0L753.3,650.0L752.9,653.0L752.5,654.7L751.0,657.5L749.6,659.0L748.0,660.4L746.5,661.6L745.0,662.8L743.5,664.0L742.0,665.5L740.6,668.0L740.3,669.5L739.7,672.5L739.0,674.1L737.5,676.3L736.0,678.0L734.5,679.7L733.0,680.9L731.5,681.7L728.5,681.8L725.5,682.2L723.5,683.0L721.0,683.7L718.0,683.6L715.0,683.3L712.0,683.2L710.5,683.0L707.5,682.1L706.0,681.5L703.0,680.1L701.5,679.5L698.7,678.5L697.0,677.8L695.1,677.0L692.5,675.6L691.0,674.4L689.5,672.9L688.1,671.0L686.7,669.5L685.0,668.1L683.5,667.3L682.0,666.5L679.4,665.0L677.5,663.8L676.0,662.9L674.4,662.0L671.9,660.5L670.2,659.0L668.9,657.5L667.6,656.0L665.6,654.5L664.0,653.8L661.0,653.1L659.5,652.7L657.0,651.5L655.0,650.3L653.5,649.7L650.5,649.5L647.5,649.8L644.5,650.0L641.5,649.9L638.5,649.9L635.5,649.7L632.5,649.0L629.5,649.0L626.5,648.9L625.0,647.1L624.6,645.5L624.2,642.5L623.9,639.5L623.5,637.4L623.2,635.0L623.3,632.0L623.1,629.0L622.1,626.0L621.1,624.5L619.9,623.0L618.7,621.5L617.5,619.1L617.0,617.0L617.0,614.0L617.5,611.5L618.4,609.5L619.0,606.5L619.3,605.0L620.5,602.4L622.0,601.0L625.0,601.2L626.5,602.1L628.1,603.5L630.2,605.0L632.5,606.5L633.8,608.0L635.1,609.5L636.7,611.0L638.5,612.4L640.0,612.9L643.0,613.4L646.0,613.6L649.0,613.9L650.5,614.5L652.7,615.5L655.0,616.9L656.5,617.5L659.5,617.9L662.5,618.2L665.5,618.4L668.5,618.0L671.5,617.7L674.5,617.7L677.5,617.4L679.4,617.0L682.0,616.6L685.0,616.6L688.0,616.0L689.5,615.1L691.3,614.0L694.0,612.7L695.5,612.2L698.5,611.3L700.0,611.0L703.0,610.5L706.0,609.9L707.7,609.5L710.5,609.2L713.5,608.5L715.0,607.9L718.0,606.6L719.5,606.2L722.5,605.8L725.5,605.6L727.9,605.0L730.0,604.0L731.5,603.1L733.7,602.0L736.0,601.6L739.0,601.5L742.0,600.8L743.5,600.2L746.1,599.0 M749.8,600.5L752.5,599.9L755.5,599.9L758.5,600.3L760.8,600.5L763.0,600.5L764.5,600.5L766.0,600.5L769.0,601.1L771.0,602.0L772.7,603.5L773.6,605.0L774.3,608.0L774.1,611.0L773.5,612.8L772.1,615.5L771.1,617.0L770.2,618.5L769.0,620.2L767.5,622.0L766.0,623.5L764.5,624.8L762.7,626.0L760.5,627.5L759.3,629.0L758.5,630.8L757.7,633.5L757.0,635.4L756.0,638.0L755.3,639.5L754.0,641.7L752.5,644.0L751.8,645.5L751.0,648.1L750.5,650.0L749.8,653.0L749.2,654.5L748.0,656.4L746.5,658.2L745.0,659.8L743.5,661.1L742.0,662.5L740.5,664.0L739.0,666.1L738.3,668.0L737.5,671.0L736.9,672.5L735.8,674.0L734.1,675.5L731.5,677.0L730.0,677.5L727.0,678.0L724.9,678.5L722.5,679.4L719.5,679.9L716.5,679.5L713.5,679.0L710.5,678.6L709.0,678.2L706.8,677.0L704.5,675.6L703.0,674.9L700.0,674.2L698.5,674.0L695.5,673.0L694.0,672.1L692.5,670.8L691.0,669.1L689.5,667.6L688.0,666.3L686.2,665.0L684.4,663.5L682.9,662.0L681.1,660.5L679.0,659.2L677.5,658.6L675.4,657.5L673.3,656.0L671.7,654.5L670.0,653.0L668.5,652.0L667.0,651.2L664.2,650.0L662.5,649.3L660.8,648.5L658.1,647.0L656.5,646.2L653.5,645.7L650.5,645.9L647.5,646.4L644.5,646.5L641.5,645.9L640.0,645.2L638.1,644.0L636.1,642.5L634.1,641.0L632.5,639.7L631.2,638.0L630.4,636.5L629.5,634.4L628.6,632.0L628.0,630.1L627.2,627.5L626.5,625.8L625.6,623.0L625.0,620.7L624.8,618.5L625.3,617.0L626.5,614.1L627.0,612.5L628.0,610.7L630.3,611.0L631.3,612.5L632.5,614.2L634.9,615.5L637.0,616.1L640.0,616.6L643.0,617.0L644.5,617.1L647.5,617.5L649.7,618.5L651.5,620.0L652.9,621.5L654.9,623.0L656.5,623.5L659.2,623.0L661.0,622.6L664.0,622.2L667.0,621.6L668.5,621.3L671.5,620.9L674.5,620.9L677.5,620.7L680.5,620.4L683.5,620.2L686.2,620.0L688.0,619.5L690.0,618.5L692.3,617.0L694.0,615.8L695.5,615.0L697.8,614.0L700.0,613.5L703.0,613.3L706.0,612.8L707.5,612.5L710.5,612.1L713.5,611.9L716.3,611.0L718.0,610.1L719.5,609.4L722.5,608.6L725.5,608.3L727.6,608.0L730.0,607.2L731.5,606.3L734.2,605.0L736.0,604.6L739.0,604.3L742.0,603.6L743.5,603.2L746.5,602.0L748.0,601.3L749.8,600.5 M762.0,602.0L764.5,601.9L766.1,602.0L769.0,602.8L770.5,603.7L772.0,605.6L772.7,608.0L772.6,611.0L772.0,612.5L770.5,615.1L769.2,617.0L768.2,618.5L767.1,620.0L765.7,621.5L763.9,623.0L761.5,624.3L760.0,625.1L758.4,626.0L757.0,627.8L756.1,630.5L755.5,633.1L754.9,635.0L754.0,637.2L752.7,639.5L751.7,641.0L750.8,642.5L749.5,645.5L749.0,647.0L748.0,649.8L747.4,651.5L746.5,653.5L745.0,656.0L743.9,657.5L742.6,659.0L741.2,660.5L739.7,662.0L738.4,663.5L737.3,665.0L736.0,668.0L735.5,669.5L734.5,671.4L733.0,672.9L731.1,674.0L728.5,674.7L725.5,674.9L722.5,675.2L719.5,675.3L716.5,674.7L714.6,674.0L712.0,672.6L710.5,671.6L709.0,670.6L706.7,669.5L704.5,668.7L702.6,668.0L700.0,666.9L698.5,666.2L695.5,665.1L694.0,664.8L691.0,663.7L689.5,662.9L688.0,661.9L686.3,660.5L684.7,659.0L682.8,657.5L680.5,656.2L679.0,655.6L677.0,654.5L674.9,653.0L673.3,651.5L671.7,650.0L670.0,648.7L668.5,647.7L666.9,647.0L664.1,645.5L662.6,644.0L661.7,642.5L661.0,641.0L659.5,639.2L657.7,639.5L655.0,640.2L652.9,641.0L650.5,642.0L649.0,642.5L646.0,643.0L643.7,642.5L641.5,641.0L640.0,639.7L638.5,638.2L637.0,636.5L636.0,635.0L635.5,633.3L635.3,630.5L635.2,627.5L635.0,624.5L635.5,622.8L637.0,621.4L640.0,621.0L642.3,621.5L644.5,622.2L646.1,623.0L648.2,624.5L649.5,626.0L650.8,627.5L652.8,629.0L655.0,630.0L656.5,630.7L658.0,632.2L659.5,634.4L661.0,636.0L662.5,634.7L663.2,632.0L664.0,629.3L665.4,627.5L667.0,626.6L669.2,626.0L671.5,625.9L674.5,625.8L677.5,625.0L679.2,624.5L682.0,624.2L685.0,624.3L688.0,624.4L691.0,623.3L692.5,621.9L694.0,620.4L695.5,618.8L697.0,617.7L698.5,616.8L701.5,616.1L704.5,615.7L706.0,615.4L709.0,614.7L712.0,614.6L715.0,614.6L716.9,614.0L719.5,613.0L721.0,612.5L724.0,612.1L727.0,611.9L730.0,611.4L731.5,610.6L733.0,609.5L735.9,608.0L737.5,607.5L740.5,606.9L742.0,606.5L745.0,605.6L746.8,605.0L749.5,603.7L751.0,603.0L754.0,602.3L757.0,602.0L760.0,602.1L762.0,602.0 M762.5,603.5L764.5,603.4L766.0,603.6L769.0,604.8L770.4,606.5L771.0,608.0L770.9,611.0L770.3,612.5L769.0,614.6L767.5,616.7L766.2,618.5L764.8,620.0L763.0,621.4L761.5,622.2L759.4,623.0L757.0,624.2L755.5,625.6L754.5,627.5L754.0,629.4L753.5,632.0L752.6,635.0L751.9,636.5L751.0,638.0L749.5,640.3L748.3,642.5L747.8,644.0L746.6,647.0L745.9,648.5L745.0,650.4L743.7,653.0L742.9,654.5L741.9,656.0L740.5,658.0L739.0,659.9L737.5,661.6L736.0,663.4L734.9,665.0L734.2,666.5L733.0,669.1L731.5,670.8L730.0,671.6L727.0,672.0L724.0,671.8L721.0,671.5L718.5,671.0L716.5,670.1L715.0,669.1L713.5,667.9L711.8,666.5L709.3,665.0L707.5,664.4L704.5,663.5L703.0,663.0L700.9,662.0L698.5,660.7L697.0,660.2L694.0,659.6L691.0,659.0L689.5,658.5L687.9,657.5L686.0,656.0L684.0,654.5L682.0,653.4L680.5,652.7L678.3,651.5L676.7,650.0L675.6,648.5L674.5,646.6L673.0,644.0L672.3,642.5L671.7,639.5L672.8,636.5L673.8,635.0L675.0,633.5L676.3,632.0L678.0,630.5L680.5,629.3L683.5,629.2L686.5,629.5L689.5,629.3L691.0,628.9L694.0,627.7L695.5,626.5L697.0,624.7L698.1,623.0L699.3,621.5L701.0,620.0L703.0,619.2L705.2,618.5L707.5,617.9L710.5,617.4L713.5,617.5L716.5,617.3L718.0,616.9L721.0,616.0L724.0,615.7L727.0,615.7L730.0,615.9L733.0,615.7L734.5,614.6L736.0,612.9L737.5,611.6L739.0,610.8L742.0,610.0L743.6,609.5L746.5,608.2L748.0,607.4L749.8,606.5L752.5,605.2L754.0,604.8L757.0,604.1L760.0,603.8L762.5,603.5 M756.3,606.5L758.5,605.9L761.5,605.4L764.5,605.2L767.5,606.3L768.9,608.0L769.3,609.5L769.0,611.3L767.5,614.0L766.4,615.5L765.1,617.0L763.8,618.5L761.7,620.0L760.0,620.7L757.9,621.5L755.5,622.6L754.0,623.8L752.5,625.7L751.8,627.5L751.3,630.5L751.0,632.4L750.0,635.0L749.1,636.5L748.0,638.2L746.5,640.8L745.9,642.5L745.0,644.8L743.9,647.0L743.1,648.5L742.0,650.5L740.5,653.0L739.6,654.5L738.8,656.0L737.5,658.2L736.0,660.2L734.5,661.8L733.0,663.5L732.0,665.0L731.1,666.5L729.7,668.0L727.0,668.7L724.0,668.4L721.9,668.0L719.5,667.0L718.0,666.0L716.5,664.9L714.7,663.5L712.4,662.0L710.5,661.3L707.5,660.7L706.0,660.4L703.0,659.2L701.5,658.4L699.7,657.5L697.0,656.7L694.1,656.0L692.5,655.5L690.4,654.5L688.2,653.0L686.5,652.0L685.0,651.1L683.1,650.0L681.1,648.5L680.0,647.0L679.1,644.0L679.3,641.0L680.5,638.7L682.0,637.0L683.5,635.9L685.3,635.0L688.0,634.0L689.5,633.4L692.5,632.5L694.3,632.0L697.0,630.8L698.5,629.7L700.0,628.2L701.5,626.4L703.0,624.5L704.5,623.4L706.0,622.7L709.0,622.0L710.8,621.5L713.5,621.1L716.5,620.8L719.3,620.0L721.0,619.4L724.0,618.9L727.0,618.9L730.0,619.2L733.0,619.2L736.0,618.6L737.5,617.9L739.1,617.0L741.9,615.5L743.5,615.0L745.2,614.0L746.7,612.5L748.0,611.0L749.9,609.5L752.5,608.0L754.0,607.3L756.3,606.5 M759.2,608.0L761.5,607.5L764.5,607.7L766.0,608.6L766.8,611.0L766.0,612.9L764.5,614.9L763.0,616.5L761.5,617.8L760.0,618.7L757.0,619.7L755.5,620.2L752.6,621.5L751.0,622.4L749.5,624.1L748.5,626.0L748.0,629.0L747.9,630.5L747.2,633.5L746.5,635.0L745.0,637.4L744.0,639.5L743.5,641.2L742.6,644.0L741.9,645.5L740.5,648.0L739.1,650.0L738.0,651.5L737.1,653.0L736.0,655.3L734.7,657.5L733.2,659.0L731.5,660.1L730.0,660.7L727.0,661.5L724.0,661.8L721.0,661.1L719.5,660.4L717.3,659.0L715.2,657.5L713.5,656.7L710.5,656.3L707.5,656.4L705.2,656.0L703.0,655.2L701.2,654.5L698.5,653.4L697.0,652.6L695.5,651.1L694.0,648.9L692.5,647.8L689.5,647.6L687.4,647.0L686.3,645.5L686.6,644.0L688.0,642.3L689.9,641.0L692.5,639.6L694.0,638.6L695.5,637.4L697.0,636.2L698.5,634.9L700.1,633.5L702.0,632.0L703.7,630.5L705.2,629.0L707.0,627.5L709.0,626.7L711.1,626.0L713.5,625.2L716.5,624.6L718.0,624.3L721.0,623.5L722.5,623.0L725.5,622.6L728.5,622.9L731.5,622.8L734.5,622.4L737.5,622.4L740.5,622.6L743.5,622.4L745.8,621.5L748.0,620.2L749.0,618.5L749.6,617.0L750.7,614.0L751.7,612.5L753.3,611.0L755.5,609.5L757.0,608.8L759.2,608.0 M760.0,611.0L761.5,611.0L762.4,612.5L761.5,614.3L760.0,615.8L757.0,616.5L756.5,614.0L757.6,612.5L760.0,611.0 M732.8,627.5L734.5,627.0L737.5,626.8L740.0,627.5L742.0,628.3L743.2,630.5L742.7,633.5L742.0,635.1L740.9,638.0L740.5,640.4L740.1,642.5L739.0,645.1L737.8,647.0L736.6,648.5L735.4,650.0L734.4,651.5L733.0,654.0L731.5,655.6L730.0,656.4L727.0,656.9L724.0,656.6L722.1,656.0L719.5,654.6L718.0,653.8L716.5,653.0L713.5,652.0L710.9,651.5L709.0,651.5L707.5,651.6L705.0,651.5L703.0,650.9L701.2,650.0L699.7,648.5L698.6,645.5L698.8,642.5L700.0,639.7L701.0,638.0L702.3,636.5L704.1,635.0L706.0,633.7L707.5,632.6L709.0,631.6L711.2,630.5L713.5,629.3L715.0,628.6L718.0,628.1L721.0,628.0L724.0,627.9L727.0,628.2L730.0,628.2L732.8,627.5 M717.9,632.0L719.5,632.0L721.0,632.1L724.0,632.4L727.0,632.7L730.0,632.9L733.0,632.8L736.0,632.8L737.5,633.5L737.5,635.7L737.3,638.0L736.7,641.0L736.0,642.8L734.5,645.1L733.0,646.6L731.5,648.0L730.0,649.5L728.5,650.6L725.5,651.1L722.5,650.6L719.5,650.0L718.0,649.7L715.0,648.7L713.5,648.1L710.5,647.2L709.0,646.9L706.0,646.3L704.5,645.5L703.6,642.5L704.5,640.1L706.0,638.3L707.5,637.0L709.0,635.9L710.5,635.0L713.5,633.5L715.0,632.8L717.9,632.0 M718.6,636.5L721.0,636.3L724.0,636.2L726.2,636.5L728.5,637.7L729.2,639.5L728.5,641.0L727.0,643.5L725.5,644.9L724.0,645.5L721.4,645.5L719.5,645.1L716.5,644.2L715.0,643.5L713.2,642.5L711.8,641.0L712.2,639.5L714.0,638.0L716.5,637.1L718.6,636.5 M788.8,730.6L786.8,732.1L783.9,734.3L779.2,736.2L783.2,742.5L787.0,746.5L789.6,744.2L794.0,743.1L797.8,744.0L801.7,745.2L805.0,745.4L809.1,744.3L813.0,745.0L815.1,743.9L819.6,743.8L823.5,746.1L828.9,748.2L831.9,749.9L835.6,751.1L840.2,753.1L844.1,756.0L845.4,759.0L849.0,761.8L852.8,764.2L854.9,767.6L858.0,770.0L860.1,773.0L861.7,776.6L863.6,781.7L864.0,786.0L867.6,789.4L870.6,791.8L873.2,796.0L873.9,800.8L878.0,802.8L881.3,805.3 M737.8,763.8L738.2,766.7L743.2,771.2L745.2,774.2L748.9,775.7L752.6,776.0L755.6,778.6L759.7,780.2L764.6,781.7L767.4,782.0L770.5,781.0L774.9,782.3L777.8,778.7L783.1,777.0L787.2,775.4L791.6,772.9L796.2,770.2L800.4,770.0L803.2,770.0L807.6,770.7L810.7,771.4L814.1,772.2L818.2,775.0L821.4,775.5L824.5,777.3L827.6,781.6L824.2,785.0L821.0,788.4L818.6,792.2L816.1,795.0L814.2,797.8L809.8,800.0L804.6,800.4L799.1,797.8L796.0,794.6L790.6,795.5L786.8,796.3L783.3,798.7L780.2,800.1L777.8,802.7L772.4,803.1L769.2,804.2L764.4,802.7L761.5,801.1L757.5,798.8L755.0,797.4L750.6,795.2L746.3,792.2L742.3,791.9L738.9,790.4L734.8,791.3L729.9,792.3L727.9,797.3L730.4,801.4L732.3,806.6L733.5,808.9L735.6,815.4L736.9,818.0L737.1,821.4L738.0,826.0" fill="none" stroke="#00280f" stroke-opacity="0.85" stroke-width="0.68" stroke-linejoin="round"/><path d="M838,806.2 H881.5" fill="none" stroke="#00280f" stroke-opacity="0.7" stroke-width="0.8" stroke-dasharray="3 1.5"/>
<path d="M610.8,373.7L609.4,371.9L610.1,370.2L611.6,370.0L613.1,371.5L612.4,373.3Z M624.8,389.5L624.0,387.2L625.3,385.3L627.4,385.9L628.5,387.8L627.2,389.9Z M629.1,386.1L630.6,384.9L632.0,386.0L631.6,387.9L630.1,388.7L628.5,388.0Z M638.3,392.9L639.4,392.9L639.6,393.7L639.1,394.5L638.1,394.4L637.6,393.7Z M638.5,398.5L638.7,397.8L639.9,398.1L640.7,398.9L640.1,399.4L639.1,399.3Z M654.9,380.1L655.1,379.4L655.7,379.3L656.0,379.9L655.7,380.6L655.1,380.7Z M641.7,365.6L643.0,366.2L642.4,367.5L640.7,368.3L639.7,367.7L639.9,366.4Z M646.0,366.9L644.7,365.7L645.7,364.8L647.4,364.5L648.4,365.7L647.7,366.7Z M628.0,369.0L629.1,368.2L630.1,368.9L630.2,370.1L628.9,370.7L627.6,370.3Z M635.3,368.2L634.7,369.1L633.4,369.3L632.8,368.4L633.3,367.5L634.6,367.4Z M684.0,414.2L683.7,413.7L683.9,413.2L684.8,413.2L685.2,413.7L684.9,414.1Z M694.4,403.0L696.0,401.4L698.0,402.0L697.9,404.4L696.4,405.9L694.5,405.3Z M709.8,433.8L711.3,433.3L712.3,434.0L712.2,435.0L710.7,435.5L709.7,434.8Z M712.8,437.5L712.0,436.3L712.8,435.2L714.3,435.4L715.3,436.5L714.5,437.7Z M719.4,444.4L719.4,443.7L719.8,443.0L720.4,442.9L720.4,443.5L720.0,444.2Z M731.8,449.5L732.4,447.1L734.3,445.9L735.2,447.8L734.8,450.2L732.9,451.3Z M751.6,463.5L752.3,462.9L753.1,463.0L753.1,463.7L752.3,464.2L751.6,464.2Z M735.4,473.0L735.4,472.2L735.9,471.7L736.5,471.9L736.8,472.7L736.2,473.2Z M771.1,465.9L770.8,464.5L771.6,463.2L772.5,463.9L772.6,465.3L772.0,466.6Z M771.5,456.1L772.3,454.0L774.7,453.7L775.8,456.1L774.9,458.2L772.7,458.2Z M778.3,455.5L780.6,455.4L782.2,456.7L780.5,458.7L777.6,458.9L776.8,457.0Z M786.2,450.1L787.8,449.2L789.4,450.3L789.3,452.0L787.8,452.7L786.4,451.8Z M776.5,446.3L776.5,444.0L778.0,442.9L779.3,443.2L779.1,445.8L777.6,447.5Z M797.3,444.1L798.1,444.3L798.0,445.3L797.4,445.8L796.5,445.5L796.5,444.5Z M802.0,465.5L803.4,463.5L805.9,463.2L806.7,465.7L805.4,468.1L802.9,467.7Z M808.3,463.3L809.4,461.3L811.9,461.0L812.7,462.9L811.2,464.9L809.1,464.7Z M771.6,389.2L771.0,388.1L771.6,387.1L773.0,387.2L773.7,388.3L773.0,389.4Z M778.9,392.4L777.8,392.8L775.8,392.3L775.3,390.8L776.8,390.6L778.6,391.2Z M702.8,394.3L701.3,391.6L702.2,389.5L704.3,390.0L705.7,392.4L704.9,394.3Z M706.2,384.8L706.6,382.8L708.4,382.4L710.0,384.2L709.5,386.5L707.4,386.6Z M713.6,386.7L715.8,385.8L717.8,387.8L717.2,390.7L715.0,391.8L713.2,389.5Z M848.5,451.4L849.0,449.9L850.5,449.4L851.5,450.4L850.7,452.3L849.1,452.6Z M977.3,181.2L977.9,180.9L978.7,181.2L978.7,182.0L978.1,182.4L977.3,182.0Z M955.2,190.7L955.9,190.3L956.4,191.0L956.2,191.9L955.5,192.4L955.0,191.6Z M954.3,230.7L954.9,230.0L956.2,229.6L956.5,230.3L956.0,231.1L954.7,231.4Z M957.8,240.6L958.8,241.2L959.3,242.2L958.4,243.1L957.2,242.8L957.1,241.6Z M955.8,246.0L955.7,245.1L956.5,244.5L957.4,245.0L957.4,245.9L956.7,246.4Z M947.5,258.4L948.1,257.2L949.4,257.3L950.1,258.6L949.4,259.7L948.2,259.7Z M947.1,262.0L948.0,264.2L945.8,266.8L943.0,266.7L942.6,264.2L944.7,261.8Z M941.8,275.5L940.9,273.0L943.2,271.3L945.8,272.7L946.2,275.3L944.2,277.0Z M955.1,379.4L954.5,379.1L954.2,378.6L954.5,378.2L955.1,378.4L955.4,379.0Z M973.1,395.1L973.6,395.4L973.4,396.0L972.7,396.2L972.2,396.0L972.4,395.4Z M845.5,465.1L844.9,464.5L844.6,463.6L845.3,463.4L846.0,463.9L846.1,464.7Z M851.5,458.6L852.3,458.7L852.6,459.6L851.9,460.2L851.1,460.1L850.8,459.2Z M870.8,472.2L870.2,471.2L870.6,470.4L871.8,470.8L872.2,471.8L871.8,472.4Z M907.9,438.7L908.6,437.4L909.6,437.3L910.1,437.9L909.4,439.0L908.4,439.4Z M927.7,435.5L927.7,435.0L928.2,434.9L928.8,435.1L929.0,435.6L928.4,435.7Z M735.2,483.3L735.1,482.5L735.6,482.0L736.1,482.5L736.1,483.3L735.6,483.6Z M747.1,482.3L746.1,482.1L745.8,481.2L746.3,480.5L747.3,480.8L747.8,481.6Z M770.0,478.2L770.7,478.3L770.6,479.1L770.0,479.8L769.3,479.7L769.4,478.9Z M776.9,481.3L777.4,479.9L778.3,480.1L778.7,481.6L778.1,482.6L777.3,482.7Z M900.3,529.4L901.3,529.9L901.3,531.0L899.7,531.5L898.6,531.1L898.8,530.0Z M899.5,533.4L901.0,532.8L901.9,533.9L901.4,535.5L899.9,536.4L898.8,535.2Z M929.5,561.7L929.6,560.2L930.9,559.6L931.8,561.0L931.8,562.4L930.5,562.7Z M976.8,597.5L977.5,596.6L978.8,597.2L979.2,598.7L978.5,599.7L977.3,598.8Z M795.4,542.3L794.6,542.1L794.3,541.5L794.7,541.2L795.4,541.4L795.8,541.9Z M856.7,456.7L857.2,456.8L857.3,457.4L856.9,458.0L856.4,457.8L856.3,457.2Z M607.1,392.7L606.2,392.8L605.5,392.1L605.9,391.4L606.8,391.3L607.4,391.9Z M605.1,385.4L605.9,385.2L606.3,385.9L605.9,386.7L605.1,386.8L604.8,386.0Z M563.4,426.3L564.2,426.1L564.7,426.8L564.6,427.7L563.8,427.8L563.2,427.2Z M562.9,431.4L563.7,430.9L564.1,431.6L564.1,432.6L563.3,433.0L562.9,432.4Z M587.2,409.5L586.4,409.3L586.3,408.8L586.8,408.4L587.6,408.7L587.7,409.2Z M975.6,159.6L975.7,160.2L975.1,160.5L974.4,160.4L974.3,159.8L974.9,159.4Z M438.0,756.4L438.2,755.7L438.8,755.5L439.2,756.0L439.0,756.7L438.4,757.0Z M420.2,774.1L420.7,773.7L421.3,774.0L421.4,774.8L420.9,775.2L420.4,774.8Z M691.5,470.4L692.2,470.3L692.7,470.9L692.5,471.6L691.9,471.6L691.4,471.1Z M743.7,477.5L744.1,477.4L744.4,477.9L744.3,478.5L743.9,478.6L743.7,478.1Z" fill="none" stroke="#001a0a" stroke-opacity="0.85" stroke-width="0.6"/>
<path d="M930.7,145.4 L935.0,165.0 L938.2,194.3 L936.5,230.0 L934.6,259.1 L932.2,298.3 L915.0,340.0 L897.5,381.2 L880.0,402.0 L865.9,418.0 L856.8,422.0 L829.9,422.7 L819.4,423.1 L811.9,418.2 L785.6,394.2 L781.2,398.0 L818.6,436.2 L802.1,454.9 L790.1,445.9 L793.9,439.9 L752.7,405.4 L749.7,409.2 L763.9,421.9 L769.9,421.2 L787.9,438.4 L777.4,449.7 L772.9,450.4 L765.4,457.9 L712.2,413.7 L730.2,397.2 L737.7,401.7 L740.0,401.7 L736.2,396.5 L739.2,394.2 L731.0,386.7 L717.5,385.2 L721.2,390.5 L704.7,405.7 L693.2,392.0 L710.7,375.8 L716.0,377.7 L718.2,374.0 L719.0,368.7 M742.2,359.7 L717.5,367.7 L705.5,371.0 L693.5,374.0 L686.7,380.7 L680.0,378.0 L675.0,376.2 L672.4,371.2 L669.9,368.0 L665.0,366.0 L659.1,365.6 L653.7,366.5 L643.9,368.3 L629.5,371.0 L622.3,372.8 L613.3,373.2 L610.6,378.4 L609.3,387.4 L610.0,395.5 L607.9,399.1 L600.7,400.9 L593.5,405.4 L586.3,412.5 L581.3,417.9 L575.5,425.1 L571.0,434.1 L567.4,443.1 L564.7,450.3 L561.1,453.0 L552.1,456.6 L543.2,462.9 L536.0,470.1 L532.6,475.5 L535.1,479.3 L531.2,482.0 L537.8,487.5 L534.2,492.2 L527.0,496.9 L524.9,500.0 L527.0,510.4 L533.3,520.8 L536.4,531.2 L535.3,539.5 L531.2,546.8 L527.0,550.9 L518.7,553.6 L514.8,557.2 L513.7,562.4 L515.6,567.6 L520.8,570.7 L531.2,573.8 L536.4,579.0 L538.0,587.3 L537.4,595.6 L533.3,604.0 L527.0,608.1 L526.6,613.3 L528.1,619.5 L533.3,624.7 L537.0,628.9 L535.8,633.1 L529.1,635.1 L520.8,636.8 L520.4,645.5 L517.7,651.8 L518.7,654.9 L522.5,655.9 L520.4,659.0 L522.9,664.2 L521.8,668.4 L517.7,674.6 L516.2,682.0 L517.4,691.0 L517.4,694.0 L510.6,704.6 L493.1,722.7 L430.6,769.3 L418.2,783.1 L417.8,806.4 L412.8,824.0" fill="none" stroke="#000" stroke-width="2.45" stroke-linejoin="round" stroke-linecap="butt"/><path d="M742.2,359.2 L719.0,368.2" fill="none" stroke="#000" stroke-width="3.6" stroke-linecap="round"/>
<circle cx="581.8" cy="419.40000000000003" r="3.3" fill="#000" stroke="#fff" stroke-opacity="0.85" stroke-width="0.55"/>
<circle cx="626.9" cy="451.0" r="3.3" fill="#000" stroke="#fff" stroke-opacity="0.85" stroke-width="0.55"/>
<circle cx="577.5" cy="541.3" r="3.3" fill="#000" stroke="#fff" stroke-opacity="0.85" stroke-width="0.55"/>
<circle cx="524.5" cy="563.8" r="3.3" fill="#000" stroke="#fff" stroke-opacity="0.85" stroke-width="0.55"/>
<circle cx="806.5" cy="591.3" r="3.3" fill="#000" stroke="#fff" stroke-opacity="0.85" stroke-width="0.55"/>
<circle cx="643.5" cy="636.3" r="3.3" fill="#000" stroke="#fff" stroke-opacity="0.85" stroke-width="0.55"/>
<circle cx="665.5" cy="644.3" r="3.3" fill="#000" stroke="#fff" stroke-opacity="0.85" stroke-width="0.55"/>
<circle cx="681.5" cy="774.3" r="3.3" fill="#000" stroke="#fff" stroke-opacity="0.85" stroke-width="0.55"/>
<text x="588.3" y="418.9" class="lb">SHL: 20.2 C</text>
<text x="633.4" y="450.1" class="lb">SHT: 22.8 C</text>
<text x="584" y="540.8" class="lb">LHT: 20.8 C</text>
<text x="531" y="563.3" class="lb">LHL: 18.4 C</text>
<text x="813" y="590.8" class="lb">BTO: 22.8 C</text>
<text x="650" y="635.8" class="lb">GUT: 19.8 C</text>
<text x="672" y="665.0" class="lb">TMT: 20.0 C</text>
<text x="688" y="773.8" class="lb">OHT: 21.9 C</text>
</g>
<rect x="62.5" y="145.5" width="930.0" height="679.0" fill="none" stroke="#000" stroke-width="1.1"/>
<text x="54.5" y="211.6" text-anchor="end" class="tk">33.86°S</text>
<text x="54.5" y="299.6" text-anchor="end" class="tk">33.88°S</text>
<text x="54.5" y="387.6" text-anchor="end" class="tk">33.9°S</text>
<text x="54.5" y="475.6" text-anchor="end" class="tk">33.92°S</text>
<text x="54.5" y="563.7" text-anchor="end" class="tk">33.94°S</text>
<text x="54.5" y="651.7" text-anchor="end" class="tk">33.96°S</text>
<text x="54.5" y="739.7" text-anchor="end" class="tk">33.98°S</text>
<text transform="translate(80.7,833.2) rotate(-90)" text-anchor="end" class="tk">18.25°E</text>
<text transform="translate(263.7,833.2) rotate(-90)" text-anchor="end" class="tk">18.3°E</text>
<text transform="translate(446.7,833.2) rotate(-90)" text-anchor="end" class="tk">18.35°E</text>
<text transform="translate(629.7,833.2) rotate(-90)" text-anchor="end" class="tk">18.4°E</text>
<text transform="translate(812.7,833.2) rotate(-90)" text-anchor="end" class="tk">18.45°E</text>
<rect x="155.40" y="879.6" width="24.50" height="29.199999999999932" fill="#0000e8" shape-rendering="crispEdges"/>
<rect x="179.40" y="879.6" width="25.30" height="29.199999999999932" fill="#0028e8" shape-rendering="crispEdges"/>
<rect x="204.20" y="879.6" width="25.30" height="29.199999999999932" fill="#0058e8" shape-rendering="crispEdges"/>
<rect x="229.00" y="879.6" width="25.30" height="29.199999999999932" fill="#0087e8" shape-rendering="crispEdges"/>
<rect x="253.80" y="879.6" width="25.30" height="29.199999999999932" fill="#00b2e8" shape-rendering="crispEdges"/>
<rect x="278.60" y="879.6" width="25.30" height="29.199999999999932" fill="#00d7e8" shape-rendering="crispEdges"/>
<rect x="303.40" y="879.6" width="25.30" height="29.199999999999932" fill="#00ded0" shape-rendering="crispEdges"/>
<rect x="328.20" y="879.6" width="25.30" height="29.199999999999932" fill="#00d6aa" shape-rendering="crispEdges"/>
<rect x="353.00" y="879.6" width="25.30" height="29.199999999999932" fill="#00c880" shape-rendering="crispEdges"/>
<rect x="377.80" y="879.6" width="25.30" height="29.199999999999932" fill="#00b752" shape-rendering="crispEdges"/>
<rect x="402.60" y="879.6" width="25.30" height="29.199999999999932" fill="#08ac2a" shape-rendering="crispEdges"/>
<rect x="427.40" y="879.6" width="25.30" height="29.199999999999932" fill="#14aa14" shape-rendering="crispEdges"/>
<rect x="452.20" y="879.6" width="25.30" height="29.199999999999932" fill="#34b40a" shape-rendering="crispEdges"/>
<rect x="477.00" y="879.6" width="25.30" height="29.199999999999932" fill="#5fbe08" shape-rendering="crispEdges"/>
<rect x="501.80" y="879.6" width="25.30" height="29.199999999999932" fill="#87cd05" shape-rendering="crispEdges"/>
<rect x="526.60" y="879.6" width="25.30" height="29.199999999999932" fill="#afd700" shape-rendering="crispEdges"/>
<rect x="551.40" y="879.6" width="25.30" height="29.199999999999932" fill="#d4e200" shape-rendering="crispEdges"/>
<rect x="576.20" y="879.6" width="25.30" height="29.199999999999932" fill="#e8de00" shape-rendering="crispEdges"/>
<rect x="601.00" y="879.6" width="25.30" height="29.199999999999932" fill="#ecd200" shape-rendering="crispEdges"/>
<rect x="625.80" y="879.6" width="25.30" height="29.199999999999932" fill="#ecc300" shape-rendering="crispEdges"/>
<rect x="650.60" y="879.6" width="25.30" height="29.199999999999932" fill="#ecb400" shape-rendering="crispEdges"/>
<rect x="675.40" y="879.6" width="25.30" height="29.199999999999932" fill="#eca300" shape-rendering="crispEdges"/>
<rect x="700.20" y="879.6" width="25.30" height="29.199999999999932" fill="#ec9100" shape-rendering="crispEdges"/>
<rect x="725.00" y="879.6" width="25.30" height="29.199999999999932" fill="#ec7a00" shape-rendering="crispEdges"/>
<rect x="749.80" y="879.6" width="25.30" height="29.199999999999932" fill="#ec5f00" shape-rendering="crispEdges"/>
<rect x="774.60" y="879.6" width="25.30" height="29.199999999999932" fill="#ea4100" shape-rendering="crispEdges"/>
<rect x="799.40" y="879.6" width="25.30" height="29.199999999999932" fill="#ea2300" shape-rendering="crispEdges"/>
<rect x="824.20" y="879.6" width="25.30" height="29.199999999999932" fill="#e80c00" shape-rendering="crispEdges"/>
<rect x="849.00" y="879.6" width="25.30" height="29.199999999999932" fill="#da000a" shape-rendering="crispEdges"/>
<rect x="873.80" y="879.6" width="26.10" height="29.199999999999932" fill="#b90023" shape-rendering="crispEdges"/>
<rect x="155.4" y="879.6" width="744.0" height="29.199999999999932" fill="none" stroke="#000" stroke-width="1.1"/>
<text x="154.7" y="930" text-anchor="middle" class="cbt">15.5</text>
<text x="204.3" y="930" text-anchor="middle" class="cbt">16.5</text>
<text x="253.9" y="930" text-anchor="middle" class="cbt">17.5</text>
<text x="303.5" y="930" text-anchor="middle" class="cbt">18.5</text>
<text x="353.1" y="930" text-anchor="middle" class="cbt">19.5</text>
<text x="402.7" y="930" text-anchor="middle" class="cbt">20.5</text>
<text x="452.3" y="930" text-anchor="middle" class="cbt">21.5</text>
<text x="501.9" y="930" text-anchor="middle" class="cbt">22.5</text>
<text x="551.5" y="930" text-anchor="middle" class="cbt">23.5</text>
<text x="601.1" y="930" text-anchor="middle" class="cbt">24.5</text>
<text x="650.7" y="930" text-anchor="middle" class="cbt">25.5</text>
<text x="700.3" y="930" text-anchor="middle" class="cbt">26.5</text>
<text x="749.9" y="930" text-anchor="middle" class="cbt">27.5</text>
<text x="799.5" y="930" text-anchor="middle" class="cbt">28.5</text>
<text x="849.1" y="930" text-anchor="middle" class="cbt">29.5</text>
<text x="898.7" y="930" text-anchor="middle" class="cbt">30.5</text>
<path d="M155.40,908.8 v4.9 M180.20,908.8 v3.1 M205.00,908.8 v4.9 M229.80,908.8 v3.1 M254.60,908.8 v4.9 M279.40,908.8 v3.1 M304.20,908.8 v4.9 M329.00,908.8 v3.1 M353.80,908.8 v4.9 M378.60,908.8 v3.1 M403.40,908.8 v4.9 M428.20,908.8 v3.1 M453.00,908.8 v4.9 M477.80,908.8 v3.1 M502.60,908.8 v4.9 M527.40,908.8 v3.1 M552.20,908.8 v4.9 M577.00,908.8 v3.1 M601.80,908.8 v4.9 M626.60,908.8 v3.1 M651.40,908.8 v4.9 M676.20,908.8 v3.1 M701.00,908.8 v4.9 M725.80,908.8 v3.1 M750.60,908.8 v4.9 M775.40,908.8 v3.1 M800.20,908.8 v4.9 M825.00,908.8 v3.1 M849.80,908.8 v4.9 M874.60,908.8 v3.1 M899.40,908.8 v4.9" stroke="#000" stroke-width="1.1" fill="none"/>
<text x="526.4" y="949" text-anchor="middle" class="cbt">sfctemp [C]</text>
</svg>
</body></html>
